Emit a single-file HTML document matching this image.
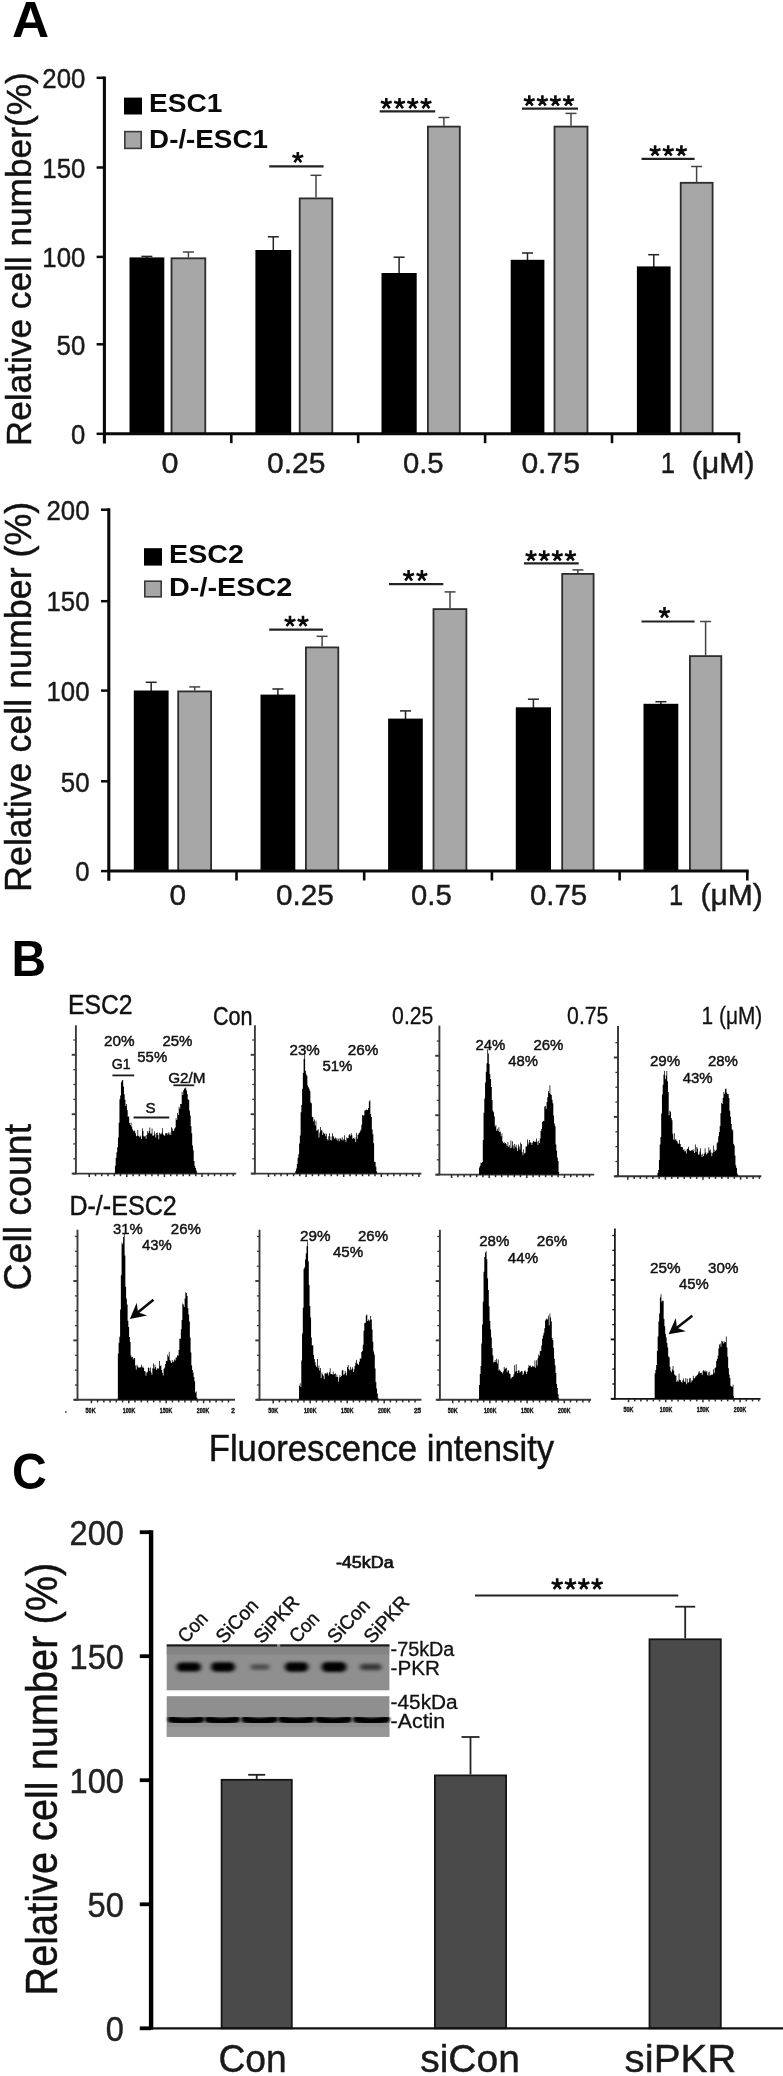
<!DOCTYPE html>
<html><head><meta charset="utf-8"><title>Figure</title>
<style>html,body{margin:0;padding:0;background:#fff}svg{display:block;will-change:transform}text{font-family:"Liberation Sans", sans-serif;font-kerning:none}</style></head><body>
<svg width="783" height="2076" viewBox="0 0 783 2076" font-family='"Liberation Sans", sans-serif'>
<defs><filter id="b1" x="-20%" y="-60%" width="140%" height="220%"><feGaussianBlur stdDeviation="2.0 1.6"/></filter><filter id="b2" x="-20%" y="-60%" width="140%" height="220%"><feGaussianBlur stdDeviation="1.5 1.3"/></filter><filter id="b0" x="-5%" y="-5%" width="110%" height="110%"><feGaussianBlur stdDeviation="0.45"/></filter></defs>
<rect width="783" height="2076" fill="#fff"/>
<text x="12.1" y="37.0" font-size="49.3" font-weight="bold" textLength="37.1" lengthAdjust="spacingAndGlyphs" fill="#000">A</text>
<text x="11.6" y="976.4" font-size="49.5" font-weight="bold" textLength="34.6" lengthAdjust="spacingAndGlyphs" fill="#000">B</text>
<text x="12.0" y="1489.0" font-size="49.5" font-weight="bold" textLength="34.8" lengthAdjust="spacingAndGlyphs" fill="#000">C</text>
<text x="30.8" y="446.3" font-size="35.8" textLength="374.0" lengthAdjust="spacingAndGlyphs" transform="rotate(-90 30.8 446.3)" fill="#111" stroke="#111" stroke-width="0.45">Relative cell number(%)</text>
<line x1="146.9" y1="256.4" x2="146.9" y2="258.4" stroke="#222" stroke-width="1.5" stroke-linecap="butt"/>
<line x1="141.4" y1="256.4" x2="152.4" y2="256.4" stroke="#222" stroke-width="1.5" stroke-linecap="butt"/>
<rect x="129.5" y="257.4" width="34.8" height="176.4" fill="#000"/>
<line x1="188.4" y1="252.0" x2="188.4" y2="257.4" stroke="#444" stroke-width="1.5" stroke-linecap="butt"/>
<line x1="182.9" y1="252.0" x2="193.9" y2="252.0" stroke="#444" stroke-width="1.5" stroke-linecap="butt"/>
<rect x="171.5" y="258.3" width="33.8" height="175.5" fill="#a7a7a7" stroke="#2c2c2c" stroke-width="1.8"/>
<line x1="273.3" y1="236.8" x2="273.3" y2="251.0" stroke="#222" stroke-width="1.5" stroke-linecap="butt"/>
<line x1="267.8" y1="236.8" x2="278.8" y2="236.8" stroke="#222" stroke-width="1.5" stroke-linecap="butt"/>
<rect x="255.4" y="250.0" width="35.8" height="183.8" fill="#000"/>
<line x1="316.0" y1="175.3" x2="316.0" y2="197.5" stroke="#444" stroke-width="1.5" stroke-linecap="butt"/>
<line x1="310.5" y1="175.3" x2="321.5" y2="175.3" stroke="#444" stroke-width="1.5" stroke-linecap="butt"/>
<rect x="299.7" y="198.4" width="32.6" height="235.4" fill="#a7a7a7" stroke="#2c2c2c" stroke-width="1.8"/>
<line x1="399.1" y1="257.2" x2="399.1" y2="274.0" stroke="#222" stroke-width="1.5" stroke-linecap="butt"/>
<line x1="393.6" y1="257.2" x2="404.6" y2="257.2" stroke="#222" stroke-width="1.5" stroke-linecap="butt"/>
<rect x="381.5" y="273.0" width="35.2" height="160.8" fill="#000"/>
<line x1="443.9" y1="117.5" x2="443.9" y2="125.7" stroke="#444" stroke-width="1.5" stroke-linecap="butt"/>
<line x1="438.4" y1="117.5" x2="449.4" y2="117.5" stroke="#444" stroke-width="1.5" stroke-linecap="butt"/>
<rect x="427.9" y="126.6" width="31.9" height="307.2" fill="#a7a7a7" stroke="#2c2c2c" stroke-width="1.8"/>
<line x1="527.5" y1="253.0" x2="527.5" y2="260.8" stroke="#222" stroke-width="1.5" stroke-linecap="butt"/>
<line x1="522.0" y1="253.0" x2="533.0" y2="253.0" stroke="#222" stroke-width="1.5" stroke-linecap="butt"/>
<rect x="510.7" y="259.8" width="33.7" height="174.0" fill="#000"/>
<line x1="571.0" y1="113.4" x2="571.0" y2="125.7" stroke="#444" stroke-width="1.5" stroke-linecap="butt"/>
<line x1="565.5" y1="113.4" x2="576.5" y2="113.4" stroke="#444" stroke-width="1.5" stroke-linecap="butt"/>
<rect x="554.5" y="126.6" width="33.0" height="307.2" fill="#a7a7a7" stroke="#2c2c2c" stroke-width="1.8"/>
<line x1="653.8" y1="254.7" x2="653.8" y2="267.4" stroke="#222" stroke-width="1.5" stroke-linecap="butt"/>
<line x1="648.2" y1="254.7" x2="659.2" y2="254.7" stroke="#222" stroke-width="1.5" stroke-linecap="butt"/>
<rect x="636.9" y="266.4" width="33.7" height="167.4" fill="#000"/>
<line x1="696.6" y1="166.5" x2="696.6" y2="181.9" stroke="#444" stroke-width="1.5" stroke-linecap="butt"/>
<line x1="691.1" y1="166.5" x2="702.1" y2="166.5" stroke="#444" stroke-width="1.5" stroke-linecap="butt"/>
<rect x="680.7" y="182.8" width="31.9" height="251.0" fill="#a7a7a7" stroke="#2c2c2c" stroke-width="1.8"/>
<line x1="104.4" y1="76.4" x2="104.4" y2="443.4" stroke="#0a0a0a" stroke-width="3.1" stroke-linecap="butt"/>
<line x1="103.4" y1="433.8" x2="740.3" y2="433.8" stroke="#0a0a0a" stroke-width="3.0" stroke-linecap="butt"/>
<line x1="231.3" y1="433.8" x2="231.3" y2="443.2" stroke="#0a0a0a" stroke-width="2.6" stroke-linecap="butt"/>
<line x1="358.2" y1="433.8" x2="358.2" y2="443.2" stroke="#0a0a0a" stroke-width="2.6" stroke-linecap="butt"/>
<line x1="485.1" y1="433.8" x2="485.1" y2="443.2" stroke="#0a0a0a" stroke-width="2.6" stroke-linecap="butt"/>
<line x1="612.0" y1="433.8" x2="612.0" y2="443.2" stroke="#0a0a0a" stroke-width="2.6" stroke-linecap="butt"/>
<line x1="738.9" y1="433.8" x2="738.9" y2="443.2" stroke="#0a0a0a" stroke-width="2.6" stroke-linecap="butt"/>
<line x1="96.6" y1="77.8" x2="104.4" y2="77.8" stroke="#0a0a0a" stroke-width="2.5" stroke-linecap="butt"/>
<text x="42.3" y="88.0" font-size="27" textLength="43.0" lengthAdjust="spacingAndGlyphs" fill="#1a1a1a" stroke="#1a1a1a" stroke-width="0.45">200</text>
<line x1="96.6" y1="167.5" x2="104.4" y2="167.5" stroke="#0a0a0a" stroke-width="2.5" stroke-linecap="butt"/>
<text x="42.3" y="177.7" font-size="27" textLength="43.0" lengthAdjust="spacingAndGlyphs" fill="#1a1a1a" stroke="#1a1a1a" stroke-width="0.45">150</text>
<line x1="96.6" y1="256.9" x2="104.4" y2="256.9" stroke="#0a0a0a" stroke-width="2.5" stroke-linecap="butt"/>
<text x="42.3" y="267.1" font-size="27" textLength="43.0" lengthAdjust="spacingAndGlyphs" fill="#1a1a1a" stroke="#1a1a1a" stroke-width="0.45">100</text>
<line x1="96.6" y1="344.3" x2="104.4" y2="344.3" stroke="#0a0a0a" stroke-width="2.5" stroke-linecap="butt"/>
<text x="56.6" y="354.5" font-size="27" textLength="28.7" lengthAdjust="spacingAndGlyphs" fill="#1a1a1a" stroke="#1a1a1a" stroke-width="0.45">50</text>
<line x1="96.6" y1="433.8" x2="104.4" y2="433.8" stroke="#0a0a0a" stroke-width="2.5" stroke-linecap="butt"/>
<text x="71.0" y="444.0" font-size="27" textLength="14.3" lengthAdjust="spacingAndGlyphs" fill="#1a1a1a" stroke="#1a1a1a" stroke-width="0.45">0</text>
<text x="161.6" y="473.3" font-size="29.6" textLength="17.0" lengthAdjust="spacingAndGlyphs" fill="#1a1a1a" stroke="#1a1a1a" stroke-width="0.45">0</text>
<text x="267.1" y="473.3" font-size="29.6" textLength="58.3" lengthAdjust="spacingAndGlyphs" fill="#1a1a1a" stroke="#1a1a1a" stroke-width="0.45">0.25</text>
<text x="402.9" y="473.3" font-size="29.6" textLength="40.7" lengthAdjust="spacingAndGlyphs" fill="#1a1a1a" stroke="#1a1a1a" stroke-width="0.45">0.5</text>
<text x="521.4" y="473.3" font-size="29.6" textLength="58.5" lengthAdjust="spacingAndGlyphs" fill="#1a1a1a" stroke="#1a1a1a" stroke-width="0.45">0.75</text>
<text x="667.8" y="473.3" font-size="29.6" text-anchor="middle" textLength="14.2" lengthAdjust="spacingAndGlyphs" fill="#1a1a1a" stroke="#1a1a1a" stroke-width="0.45">1</text>
<text x="691.7" y="473.3" font-size="29.6" textLength="63.0" lengthAdjust="spacingAndGlyphs" fill="#1a1a1a" stroke="#1a1a1a" stroke-width="0.45">(μM)</text>
<line x1="269.2" y1="166.4" x2="323.6" y2="166.4" stroke="#222" stroke-width="2.2" stroke-linecap="butt"/>
<path d="M297.8 157.6L297.8 151.9M297.8 157.6L303.2 155.8M297.8 157.6L301.2 162.2M297.8 157.6L294.4 162.2M297.8 157.6L292.4 155.8" stroke="#0a0a0a" stroke-width="2.6" fill="none" stroke-linecap="butt"/>
<line x1="379.7" y1="111.4" x2="435.2" y2="111.4" stroke="#222" stroke-width="2.2" stroke-linecap="butt"/>
<path d="M386.3 103.6L386.3 97.9M386.3 103.6L391.7 101.8M386.3 103.6L389.7 108.2M386.3 103.6L383.0 108.2M386.3 103.6L380.9 101.8" stroke="#0a0a0a" stroke-width="2.6" fill="none" stroke-linecap="butt"/>
<path d="M399.5 103.6L399.5 97.9M399.5 103.6L405.0 101.8M399.5 103.6L402.9 108.2M399.5 103.6L396.2 108.2M399.5 103.6L394.1 101.8" stroke="#0a0a0a" stroke-width="2.6" fill="none" stroke-linecap="butt"/>
<path d="M412.8 103.6L412.8 97.9M412.8 103.6L418.2 101.8M412.8 103.6L416.1 108.2M412.8 103.6L409.4 108.2M412.8 103.6L407.3 101.8" stroke="#0a0a0a" stroke-width="2.6" fill="none" stroke-linecap="butt"/>
<path d="M426.0 103.6L426.0 97.9M426.0 103.6L431.4 101.8M426.0 103.6L429.3 108.2M426.0 103.6L422.6 108.2M426.0 103.6L420.6 101.8" stroke="#0a0a0a" stroke-width="2.6" fill="none" stroke-linecap="butt"/>
<line x1="522.0" y1="108.6" x2="578.0" y2="108.6" stroke="#222" stroke-width="2.2" stroke-linecap="butt"/>
<path d="M529.3 101.0L529.3 95.3M529.3 101.0L534.7 99.2M529.3 101.0L532.7 105.6M529.3 101.0L526.0 105.6M529.3 101.0L523.9 99.2" stroke="#0a0a0a" stroke-width="2.6" fill="none" stroke-linecap="butt"/>
<path d="M542.4 101.0L542.4 95.3M542.4 101.0L547.8 99.2M542.4 101.0L545.7 105.6M542.4 101.0L539.0 105.6M542.4 101.0L537.0 99.2" stroke="#0a0a0a" stroke-width="2.6" fill="none" stroke-linecap="butt"/>
<path d="M555.4 101.0L555.4 95.3M555.4 101.0L560.8 99.2M555.4 101.0L558.8 105.6M555.4 101.0L552.1 105.6M555.4 101.0L550.0 99.2" stroke="#0a0a0a" stroke-width="2.6" fill="none" stroke-linecap="butt"/>
<path d="M568.5 101.0L568.5 95.3M568.5 101.0L573.9 99.2M568.5 101.0L571.8 105.6M568.5 101.0L565.1 105.6M568.5 101.0L563.1 99.2" stroke="#0a0a0a" stroke-width="2.6" fill="none" stroke-linecap="butt"/>
<line x1="641.5" y1="158.9" x2="694.6" y2="158.9" stroke="#222" stroke-width="2.2" stroke-linecap="butt"/>
<path d="M655.1 151.0L655.1 145.3M655.1 151.0L660.5 149.2M655.1 151.0L658.4 155.6M655.1 151.0L651.7 155.6M655.1 151.0L649.7 149.2" stroke="#0a0a0a" stroke-width="2.6" fill="none" stroke-linecap="butt"/>
<path d="M668.2 151.0L668.2 145.3M668.2 151.0L673.7 149.2M668.2 151.0L671.6 155.6M668.2 151.0L664.9 155.6M668.2 151.0L662.8 149.2" stroke="#0a0a0a" stroke-width="2.6" fill="none" stroke-linecap="butt"/>
<path d="M681.4 151.0L681.4 145.3M681.4 151.0L686.8 149.2M681.4 151.0L684.8 155.6M681.4 151.0L678.1 155.6M681.4 151.0L676.0 149.2" stroke="#0a0a0a" stroke-width="2.6" fill="none" stroke-linecap="butt"/>
<rect x="124.0" y="97.6" width="18.0" height="16.9" fill="#000"/>
<text x="149.1" y="112.4" font-size="25.2" font-weight="bold" textLength="73.3" lengthAdjust="spacingAndGlyphs" fill="#0a0a0a">ESC1</text>
<rect x="124.8" y="131.6" width="16.4" height="16.8" fill="#a6a6a6" stroke="#3a3a3a" stroke-width="1.6"/>
<text x="149.1" y="147.6" font-size="25.2" font-weight="bold" textLength="118.8" lengthAdjust="spacingAndGlyphs" fill="#0a0a0a">D-/-ESC1</text>
<text x="31.0" y="891.9" font-size="36" textLength="390.2" lengthAdjust="spacingAndGlyphs" transform="rotate(-90 31.0 891.9)" fill="#111" stroke="#111" stroke-width="0.45">Relative cell number (%)</text>
<line x1="151.2" y1="682.3" x2="151.2" y2="691.5" stroke="#222" stroke-width="1.5" stroke-linecap="butt"/>
<line x1="145.7" y1="682.3" x2="156.7" y2="682.3" stroke="#222" stroke-width="1.5" stroke-linecap="butt"/>
<rect x="133.8" y="690.5" width="34.8" height="180.6" fill="#000"/>
<line x1="194.7" y1="686.9" x2="194.7" y2="690.5" stroke="#444" stroke-width="1.5" stroke-linecap="butt"/>
<line x1="189.2" y1="686.9" x2="200.2" y2="686.9" stroke="#444" stroke-width="1.5" stroke-linecap="butt"/>
<rect x="178.2" y="691.4" width="32.9" height="179.7" fill="#a7a7a7" stroke="#2c2c2c" stroke-width="1.8"/>
<line x1="277.9" y1="689.0" x2="277.9" y2="695.6" stroke="#222" stroke-width="1.5" stroke-linecap="butt"/>
<line x1="272.4" y1="689.0" x2="283.4" y2="689.0" stroke="#222" stroke-width="1.5" stroke-linecap="butt"/>
<rect x="260.5" y="694.6" width="34.8" height="176.5" fill="#000"/>
<line x1="322.1" y1="636.3" x2="322.1" y2="646.5" stroke="#444" stroke-width="1.5" stroke-linecap="butt"/>
<line x1="316.6" y1="636.3" x2="327.6" y2="636.3" stroke="#444" stroke-width="1.5" stroke-linecap="butt"/>
<rect x="305.9" y="647.4" width="32.4" height="223.7" fill="#a7a7a7" stroke="#2c2c2c" stroke-width="1.8"/>
<line x1="405.5" y1="710.9" x2="405.5" y2="719.6" stroke="#222" stroke-width="1.5" stroke-linecap="butt"/>
<line x1="400.0" y1="710.9" x2="411.0" y2="710.9" stroke="#222" stroke-width="1.5" stroke-linecap="butt"/>
<rect x="388.1" y="718.6" width="34.7" height="152.5" fill="#000"/>
<line x1="450.0" y1="591.9" x2="450.0" y2="608.2" stroke="#444" stroke-width="1.5" stroke-linecap="butt"/>
<line x1="444.5" y1="591.9" x2="455.5" y2="591.9" stroke="#444" stroke-width="1.5" stroke-linecap="butt"/>
<rect x="433.5" y="609.1" width="32.9" height="262.0" fill="#a7a7a7" stroke="#2c2c2c" stroke-width="1.8"/>
<line x1="533.4" y1="699.2" x2="533.4" y2="708.3" stroke="#222" stroke-width="1.5" stroke-linecap="butt"/>
<line x1="527.9" y1="699.2" x2="538.9" y2="699.2" stroke="#222" stroke-width="1.5" stroke-linecap="butt"/>
<rect x="515.8" y="707.3" width="35.2" height="163.8" fill="#000"/>
<line x1="577.9" y1="569.9" x2="577.9" y2="573.0" stroke="#444" stroke-width="1.5" stroke-linecap="butt"/>
<line x1="572.4" y1="569.9" x2="583.4" y2="569.9" stroke="#444" stroke-width="1.5" stroke-linecap="butt"/>
<rect x="562.2" y="573.9" width="31.4" height="297.2" fill="#a7a7a7" stroke="#2c2c2c" stroke-width="1.8"/>
<line x1="660.9" y1="701.7" x2="660.9" y2="704.8" stroke="#222" stroke-width="1.5" stroke-linecap="butt"/>
<line x1="655.4" y1="701.7" x2="666.4" y2="701.7" stroke="#222" stroke-width="1.5" stroke-linecap="butt"/>
<rect x="643.5" y="703.8" width="34.8" height="167.3" fill="#000"/>
<line x1="705.6" y1="621.5" x2="705.6" y2="655.2" stroke="#444" stroke-width="1.5" stroke-linecap="butt"/>
<line x1="700.1" y1="621.5" x2="711.1" y2="621.5" stroke="#444" stroke-width="1.5" stroke-linecap="butt"/>
<rect x="689.9" y="656.1" width="31.4" height="215.0" fill="#a7a7a7" stroke="#2c2c2c" stroke-width="1.8"/>
<line x1="108.8" y1="508.3" x2="108.8" y2="880.7" stroke="#0a0a0a" stroke-width="3.1" stroke-linecap="butt"/>
<line x1="107.8" y1="871.1" x2="748.7" y2="871.1" stroke="#0a0a0a" stroke-width="3.0" stroke-linecap="butt"/>
<line x1="236.5" y1="871.1" x2="236.5" y2="880.5" stroke="#0a0a0a" stroke-width="2.6" stroke-linecap="butt"/>
<line x1="364.2" y1="871.1" x2="364.2" y2="880.5" stroke="#0a0a0a" stroke-width="2.6" stroke-linecap="butt"/>
<line x1="491.9" y1="871.1" x2="491.9" y2="880.5" stroke="#0a0a0a" stroke-width="2.6" stroke-linecap="butt"/>
<line x1="619.6" y1="871.1" x2="619.6" y2="880.5" stroke="#0a0a0a" stroke-width="2.6" stroke-linecap="butt"/>
<line x1="747.3" y1="871.1" x2="747.3" y2="880.5" stroke="#0a0a0a" stroke-width="2.6" stroke-linecap="butt"/>
<line x1="101.0" y1="509.7" x2="108.8" y2="509.7" stroke="#0a0a0a" stroke-width="2.5" stroke-linecap="butt"/>
<text x="46.5" y="519.9" font-size="27" textLength="43.0" lengthAdjust="spacingAndGlyphs" fill="#1a1a1a" stroke="#1a1a1a" stroke-width="0.45">200</text>
<line x1="101.0" y1="601.2" x2="108.8" y2="601.2" stroke="#0a0a0a" stroke-width="2.5" stroke-linecap="butt"/>
<text x="46.5" y="611.4" font-size="27" textLength="43.0" lengthAdjust="spacingAndGlyphs" fill="#1a1a1a" stroke="#1a1a1a" stroke-width="0.45">150</text>
<line x1="101.0" y1="690.6" x2="108.8" y2="690.6" stroke="#0a0a0a" stroke-width="2.5" stroke-linecap="butt"/>
<text x="46.5" y="700.8" font-size="27" textLength="43.0" lengthAdjust="spacingAndGlyphs" fill="#1a1a1a" stroke="#1a1a1a" stroke-width="0.45">100</text>
<line x1="101.0" y1="781.3" x2="108.8" y2="781.3" stroke="#0a0a0a" stroke-width="2.5" stroke-linecap="butt"/>
<text x="60.8" y="791.5" font-size="27" textLength="28.7" lengthAdjust="spacingAndGlyphs" fill="#1a1a1a" stroke="#1a1a1a" stroke-width="0.45">50</text>
<line x1="101.0" y1="871.1" x2="108.8" y2="871.1" stroke="#0a0a0a" stroke-width="2.5" stroke-linecap="butt"/>
<text x="75.2" y="881.3" font-size="27" textLength="14.3" lengthAdjust="spacingAndGlyphs" fill="#1a1a1a" stroke="#1a1a1a" stroke-width="0.45">0</text>
<text x="169.6" y="904.8" font-size="29.6" textLength="16.6" lengthAdjust="spacingAndGlyphs" fill="#1a1a1a" stroke="#1a1a1a" stroke-width="0.45">0</text>
<text x="275.9" y="904.8" font-size="29.6" textLength="57.9" lengthAdjust="spacingAndGlyphs" fill="#1a1a1a" stroke="#1a1a1a" stroke-width="0.45">0.25</text>
<text x="411.1" y="904.8" font-size="29.6" textLength="40.6" lengthAdjust="spacingAndGlyphs" fill="#1a1a1a" stroke="#1a1a1a" stroke-width="0.45">0.5</text>
<text x="530.0" y="904.8" font-size="29.6" textLength="57.2" lengthAdjust="spacingAndGlyphs" fill="#1a1a1a" stroke="#1a1a1a" stroke-width="0.45">0.75</text>
<text x="676.0" y="904.8" font-size="29.6" text-anchor="middle" textLength="14.2" lengthAdjust="spacingAndGlyphs" fill="#1a1a1a" stroke="#1a1a1a" stroke-width="0.45">1</text>
<text x="700.4" y="904.8" font-size="29.6" textLength="62.4" lengthAdjust="spacingAndGlyphs" fill="#1a1a1a" stroke="#1a1a1a" stroke-width="0.45">(μM)</text>
<line x1="269.2" y1="629.7" x2="322.9" y2="629.7" stroke="#222" stroke-width="2.2" stroke-linecap="butt"/>
<path d="M290.0 621.5L290.0 615.8M290.0 621.5L295.4 619.7M290.0 621.5L293.4 626.1M290.0 621.5L286.6 626.1M290.0 621.5L284.6 619.7" stroke="#0a0a0a" stroke-width="2.6" fill="none" stroke-linecap="butt"/>
<path d="M303.0 621.5L303.0 615.8M303.0 621.5L308.4 619.7M303.0 621.5L306.4 626.1M303.0 621.5L299.6 626.1M303.0 621.5L297.6 619.7" stroke="#0a0a0a" stroke-width="2.6" fill="none" stroke-linecap="butt"/>
<line x1="389.0" y1="584.2" x2="443.3" y2="584.2" stroke="#222" stroke-width="2.2" stroke-linecap="butt"/>
<path d="M408.6 575.8L408.6 570.1M408.6 575.8L414.0 574.0M408.6 575.8L412.0 580.4M408.6 575.8L405.3 580.4M408.6 575.8L403.2 574.0" stroke="#0a0a0a" stroke-width="2.6" fill="none" stroke-linecap="butt"/>
<path d="M421.9 575.8L421.9 570.1M421.9 575.8L427.3 574.0M421.9 575.8L425.2 580.4M421.9 575.8L418.5 580.4M421.9 575.8L416.5 574.0" stroke="#0a0a0a" stroke-width="2.6" fill="none" stroke-linecap="butt"/>
<line x1="524.0" y1="563.3" x2="578.7" y2="563.3" stroke="#222" stroke-width="2.2" stroke-linecap="butt"/>
<path d="M531.1 556.0L531.1 550.3M531.1 556.0L536.5 554.2M531.1 556.0L534.4 560.6M531.1 556.0L527.7 560.6M531.1 556.0L525.6 554.2" stroke="#0a0a0a" stroke-width="2.6" fill="none" stroke-linecap="butt"/>
<path d="M544.2 556.0L544.2 550.3M544.2 556.0L549.6 554.2M544.2 556.0L547.5 560.6M544.2 556.0L540.8 560.6M544.2 556.0L538.8 554.2" stroke="#0a0a0a" stroke-width="2.6" fill="none" stroke-linecap="butt"/>
<path d="M557.3 556.0L557.3 550.3M557.3 556.0L562.7 554.2M557.3 556.0L560.7 560.6M557.3 556.0L554.0 560.6M557.3 556.0L551.9 554.2" stroke="#0a0a0a" stroke-width="2.6" fill="none" stroke-linecap="butt"/>
<path d="M570.4 556.0L570.4 550.3M570.4 556.0L575.9 554.2M570.4 556.0L573.8 560.6M570.4 556.0L567.1 560.6M570.4 556.0L565.0 554.2" stroke="#0a0a0a" stroke-width="2.6" fill="none" stroke-linecap="butt"/>
<line x1="641.5" y1="621.5" x2="694.6" y2="621.5" stroke="#222" stroke-width="2.2" stroke-linecap="butt"/>
<path d="M664.5 612.8L664.5 607.1M664.5 612.8L669.9 611.0M664.5 612.8L667.9 617.4M664.5 612.8L661.1 617.4M664.5 612.8L659.1 611.0" stroke="#0a0a0a" stroke-width="2.6" fill="none" stroke-linecap="butt"/>
<rect x="144.0" y="548.2" width="18.0" height="17.4" fill="#000"/>
<text x="169.1" y="562.8" font-size="25.2" font-weight="bold" textLength="74.7" lengthAdjust="spacingAndGlyphs" fill="#0a0a0a">ESC2</text>
<rect x="144.8" y="581.2" width="16.4" height="15.6" fill="#a6a6a6" stroke="#3a3a3a" stroke-width="1.6"/>
<text x="169.1" y="596.4" font-size="25.2" font-weight="bold" textLength="123.1" lengthAdjust="spacingAndGlyphs" fill="#0a0a0a">D-/-ESC2</text>
<text x="68.0" y="1013.7" font-size="27" textLength="64.6" lengthAdjust="spacingAndGlyphs" fill="#111" stroke="#111" stroke-width="0.45">ESC2</text>
<text x="212.9" y="1024.6" font-size="26" textLength="39.6" lengthAdjust="spacingAndGlyphs" fill="#111" stroke="#111" stroke-width="0.45">Con</text>
<text x="392.1" y="1024.4" font-size="24.7" textLength="41.3" lengthAdjust="spacingAndGlyphs" fill="#111" stroke="#111" stroke-width="0.3">0.25</text>
<text x="567.1" y="1024.4" font-size="24.7" textLength="41.3" lengthAdjust="spacingAndGlyphs" fill="#111" stroke="#111" stroke-width="0.3">0.75</text>
<text x="701.6" y="1024.4" font-size="24.7" textLength="60.6" lengthAdjust="spacingAndGlyphs" fill="#111" stroke="#111" stroke-width="0.3">1 (μM)</text>
<text x="69.4" y="1215.2" font-size="27" textLength="107.3" lengthAdjust="spacingAndGlyphs" fill="#111" stroke="#111" stroke-width="0.45">D-/-ESC2</text>
<text x="30.5" y="1290.5" font-size="38.4" textLength="166.6" lengthAdjust="spacingAndGlyphs" transform="rotate(-90 30.5 1290.5)" fill="#111" stroke="#111" stroke-width="0.45">Cell count</text>
<text x="208.7" y="1460.8" font-size="37.5" textLength="345.5" lengthAdjust="spacingAndGlyphs" fill="#111" stroke="#111" stroke-width="0.45">Fluorescence intensity</text>
<line x1="75.9" y1="1025.3" x2="75.9" y2="1174.2" stroke="#3a3a3a" stroke-width="1.9" stroke-linecap="butt"/>
<line x1="72.9" y1="1173.6" x2="236.2" y2="1173.6" stroke="#3a3a3a" stroke-width="1.9" stroke-linecap="butt"/>
<line x1="71.7" y1="1173.6" x2="75.9" y2="1173.6" stroke="#3a3a3a" stroke-width="1.9" stroke-linecap="butt"/>
<line x1="73.3" y1="1158.8" x2="75.9" y2="1158.8" stroke="#3a3a3a" stroke-width="1.3" stroke-linecap="butt"/>
<line x1="73.3" y1="1143.9" x2="75.9" y2="1143.9" stroke="#3a3a3a" stroke-width="1.3" stroke-linecap="butt"/>
<line x1="73.3" y1="1129.1" x2="75.9" y2="1129.1" stroke="#3a3a3a" stroke-width="1.3" stroke-linecap="butt"/>
<line x1="71.7" y1="1114.2" x2="75.9" y2="1114.2" stroke="#3a3a3a" stroke-width="1.9" stroke-linecap="butt"/>
<line x1="73.3" y1="1099.4" x2="75.9" y2="1099.4" stroke="#3a3a3a" stroke-width="1.3" stroke-linecap="butt"/>
<line x1="73.3" y1="1084.5" x2="75.9" y2="1084.5" stroke="#3a3a3a" stroke-width="1.3" stroke-linecap="butt"/>
<line x1="73.3" y1="1069.7" x2="75.9" y2="1069.7" stroke="#3a3a3a" stroke-width="1.3" stroke-linecap="butt"/>
<line x1="71.7" y1="1054.8" x2="75.9" y2="1054.8" stroke="#3a3a3a" stroke-width="1.9" stroke-linecap="butt"/>
<line x1="73.3" y1="1040.0" x2="75.9" y2="1040.0" stroke="#3a3a3a" stroke-width="1.3" stroke-linecap="butt"/>
<line x1="89.2" y1="1173.6" x2="89.2" y2="1177.0" stroke="#2a2a2a" stroke-width="1.5" stroke-linecap="butt"/>
<line x1="95.5" y1="1173.6" x2="95.5" y2="1176.2" stroke="#2a2a2a" stroke-width="1.5" stroke-linecap="butt"/>
<line x1="101.7" y1="1173.6" x2="101.7" y2="1176.2" stroke="#2a2a2a" stroke-width="1.5" stroke-linecap="butt"/>
<line x1="108.0" y1="1173.6" x2="108.0" y2="1176.2" stroke="#2a2a2a" stroke-width="1.5" stroke-linecap="butt"/>
<line x1="114.3" y1="1173.6" x2="114.3" y2="1176.2" stroke="#2a2a2a" stroke-width="1.5" stroke-linecap="butt"/>
<line x1="120.5" y1="1173.6" x2="120.5" y2="1176.2" stroke="#2a2a2a" stroke-width="1.5" stroke-linecap="butt"/>
<line x1="126.8" y1="1173.6" x2="126.8" y2="1177.0" stroke="#2a2a2a" stroke-width="1.5" stroke-linecap="butt"/>
<line x1="133.1" y1="1173.6" x2="133.1" y2="1176.2" stroke="#2a2a2a" stroke-width="1.5" stroke-linecap="butt"/>
<line x1="139.3" y1="1173.6" x2="139.3" y2="1176.2" stroke="#2a2a2a" stroke-width="1.5" stroke-linecap="butt"/>
<line x1="145.6" y1="1173.6" x2="145.6" y2="1176.2" stroke="#2a2a2a" stroke-width="1.5" stroke-linecap="butt"/>
<line x1="151.9" y1="1173.6" x2="151.9" y2="1176.2" stroke="#2a2a2a" stroke-width="1.5" stroke-linecap="butt"/>
<line x1="158.1" y1="1173.6" x2="158.1" y2="1176.2" stroke="#2a2a2a" stroke-width="1.5" stroke-linecap="butt"/>
<line x1="164.4" y1="1173.6" x2="164.4" y2="1177.0" stroke="#2a2a2a" stroke-width="1.5" stroke-linecap="butt"/>
<line x1="170.7" y1="1173.6" x2="170.7" y2="1176.2" stroke="#2a2a2a" stroke-width="1.5" stroke-linecap="butt"/>
<line x1="176.9" y1="1173.6" x2="176.9" y2="1176.2" stroke="#2a2a2a" stroke-width="1.5" stroke-linecap="butt"/>
<line x1="183.2" y1="1173.6" x2="183.2" y2="1176.2" stroke="#2a2a2a" stroke-width="1.5" stroke-linecap="butt"/>
<line x1="189.5" y1="1173.6" x2="189.5" y2="1176.2" stroke="#2a2a2a" stroke-width="1.5" stroke-linecap="butt"/>
<line x1="195.7" y1="1173.6" x2="195.7" y2="1176.2" stroke="#2a2a2a" stroke-width="1.5" stroke-linecap="butt"/>
<line x1="202.0" y1="1173.6" x2="202.0" y2="1177.0" stroke="#2a2a2a" stroke-width="1.5" stroke-linecap="butt"/>
<line x1="208.3" y1="1173.6" x2="208.3" y2="1176.2" stroke="#2a2a2a" stroke-width="1.5" stroke-linecap="butt"/>
<line x1="214.5" y1="1173.6" x2="214.5" y2="1176.2" stroke="#2a2a2a" stroke-width="1.5" stroke-linecap="butt"/>
<line x1="220.8" y1="1173.6" x2="220.8" y2="1176.2" stroke="#2a2a2a" stroke-width="1.5" stroke-linecap="butt"/>
<line x1="227.1" y1="1173.6" x2="227.1" y2="1176.2" stroke="#2a2a2a" stroke-width="1.5" stroke-linecap="butt"/>
<line x1="233.3" y1="1173.6" x2="233.3" y2="1176.2" stroke="#2a2a2a" stroke-width="1.5" stroke-linecap="butt"/>
<path d="M114.2 1173.6L114.20 1173.6L114.95 1173.6L114.95 1165.8L115.70 1165.8L115.70 1157.7L116.45 1157.7L116.45 1152.3L117.20 1152.3L117.20 1147.2L117.95 1147.2L117.95 1137.4L118.70 1137.4L118.70 1122.7L119.45 1122.7L119.45 1099.3L120.20 1099.3L120.20 1095.6L120.95 1095.6L120.95 1082.3L121.70 1082.3L121.70 1080.4L122.45 1080.4L122.45 1080.0L123.20 1080.0L123.20 1086.5L123.95 1086.5L123.95 1094.2L124.70 1094.2L124.70 1099.8L125.45 1099.8L125.45 1106.0L126.20 1106.0L126.20 1103.9L126.95 1103.9L126.95 1110.2L127.70 1110.2L127.70 1116.7L128.45 1116.7L128.45 1116.5L129.20 1116.5L129.20 1123.1L129.95 1123.1L129.95 1125.1L130.70 1125.1L130.70 1122.5L131.45 1122.5L131.45 1126.7L132.20 1126.7L132.20 1129.2L132.95 1129.2L132.95 1131.2L133.70 1131.2L133.70 1130.3L134.45 1130.3L134.45 1131.2L135.20 1131.2L135.20 1133.3L135.95 1133.3L135.95 1136.2L136.70 1136.2L136.70 1135.8L137.45 1135.8L137.45 1130.0L138.20 1130.0L138.20 1136.0L138.95 1136.0L138.95 1137.2L139.70 1137.2L139.70 1135.5L140.45 1135.5L140.45 1136.6L141.20 1136.6L141.20 1138.9L141.95 1138.9L141.95 1128.2L142.70 1128.2L142.70 1130.9L143.45 1130.9L143.45 1136.2L144.20 1136.2L144.20 1136.4L144.95 1136.4L144.95 1135.8L145.70 1135.8L145.70 1138.7L146.45 1138.7L146.45 1134.9L147.20 1134.9L147.20 1131.3L147.95 1131.3L147.95 1133.3L148.70 1133.3L148.70 1131.1L149.45 1131.1L149.45 1127.5L150.20 1127.5L150.20 1133.5L150.95 1133.5L150.95 1133.6L151.70 1133.6L151.70 1128.5L152.45 1128.5L152.45 1135.8L153.20 1135.8L153.20 1135.5L153.95 1135.5L153.95 1131.4L154.70 1131.4L154.70 1134.5L155.45 1134.5L155.45 1137.5L156.20 1137.5L156.20 1133.1L156.95 1133.1L156.95 1132.6L157.70 1132.6L157.70 1135.1L158.45 1135.1L158.45 1139.2L159.20 1139.2L159.20 1132.7L159.95 1132.7L159.95 1133.8L160.70 1133.8L160.70 1134.3L161.45 1134.3L161.45 1132.8L162.20 1132.8L162.20 1128.2L162.95 1128.2L162.95 1134.4L163.70 1134.4L163.70 1135.0L164.45 1135.0L164.45 1136.0L165.20 1136.0L165.20 1133.3L165.95 1133.3L165.95 1133.3L166.70 1133.3L166.70 1133.0L167.45 1133.0L167.45 1134.7L168.20 1134.7L168.20 1132.5L168.95 1132.5L168.95 1134.4L169.70 1134.4L169.70 1132.6L170.45 1132.6L170.45 1135.1L171.20 1135.1L171.20 1127.2L171.95 1127.2L171.95 1128.6L172.70 1128.6L172.70 1131.1L173.45 1131.1L173.45 1130.7L174.20 1130.7L174.20 1128.6L174.95 1128.6L174.95 1127.6L175.70 1127.6L175.70 1118.3L176.45 1118.3L176.45 1119.9L177.20 1119.9L177.20 1112.9L177.95 1112.9L177.95 1115.0L178.70 1115.0L178.70 1106.8L179.45 1106.8L179.45 1108.7L180.20 1108.7L180.20 1103.9L180.95 1103.9L180.95 1104.0L181.70 1104.0L181.70 1092.1L182.45 1092.1L182.45 1094.9L183.20 1094.9L183.20 1090.3L183.95 1090.3L183.95 1088.6L184.70 1088.6L184.70 1088.6L185.45 1088.6L185.45 1087.6L186.20 1087.6L186.20 1090.5L186.95 1090.5L186.95 1094.1L187.70 1094.1L187.70 1099.6L188.45 1099.6L188.45 1099.7L189.20 1099.7L189.20 1110.5L189.95 1110.5L189.95 1115.5L190.70 1115.5L190.70 1126.3L191.45 1126.3L191.45 1133.2L192.20 1133.2L192.20 1145.4L192.95 1145.4L192.95 1150.3L193.70 1150.3L193.70 1161.1L194.45 1161.1L194.45 1165.8L195.20 1165.8L195.20 1168.0L195.95 1168.0L195.95 1170.4L196.70 1170.4L196.70 1172.7L197.45 1172.7L197.0 1173.6Z" fill="#000" filter="url(#b0)"/>
<text x="104.1" y="1045.6" font-size="15.5" textLength="30.6" lengthAdjust="spacingAndGlyphs" fill="#111" stroke="#111" stroke-width="0.45">20%</text>
<text x="162.4" y="1045.6" font-size="15.5" textLength="30.1" lengthAdjust="spacingAndGlyphs" fill="#111" stroke="#111" stroke-width="0.45">25%</text>
<text x="137.3" y="1061.9" font-size="15.5" textLength="29.9" lengthAdjust="spacingAndGlyphs" fill="#111" stroke="#111" stroke-width="0.45">55%</text>
<text x="111.7" y="1068.7" font-size="15.5" textLength="19.0" lengthAdjust="spacingAndGlyphs" fill="#111" stroke="#111" stroke-width="0.45">G1</text>
<text x="168.2" y="1083.0" font-size="15.5" textLength="37.3" lengthAdjust="spacingAndGlyphs" fill="#111" stroke="#111" stroke-width="0.45">G2/M</text>
<text x="145.6" y="1113.4" font-size="15.5" textLength="10.1" lengthAdjust="spacingAndGlyphs" fill="#111" stroke="#111" stroke-width="0.45">S</text>
<line x1="112.4" y1="1075.4" x2="134.2" y2="1075.4" stroke="#1c1c1c" stroke-width="1.8" stroke-linecap="butt"/>
<line x1="173.4" y1="1085.3" x2="194.2" y2="1085.3" stroke="#1c1c1c" stroke-width="1.8" stroke-linecap="butt"/>
<line x1="133.6" y1="1117.5" x2="169.3" y2="1117.5" stroke="#1c1c1c" stroke-width="1.8" stroke-linecap="butt"/>
<line x1="254.9" y1="1025.3" x2="254.9" y2="1174.2" stroke="#3a3a3a" stroke-width="1.9" stroke-linecap="butt"/>
<line x1="251.9" y1="1173.6" x2="421.4" y2="1173.6" stroke="#3a3a3a" stroke-width="1.9" stroke-linecap="butt"/>
<line x1="250.7" y1="1173.6" x2="254.9" y2="1173.6" stroke="#3a3a3a" stroke-width="1.9" stroke-linecap="butt"/>
<line x1="252.3" y1="1158.8" x2="254.9" y2="1158.8" stroke="#3a3a3a" stroke-width="1.3" stroke-linecap="butt"/>
<line x1="252.3" y1="1143.9" x2="254.9" y2="1143.9" stroke="#3a3a3a" stroke-width="1.3" stroke-linecap="butt"/>
<line x1="252.3" y1="1129.1" x2="254.9" y2="1129.1" stroke="#3a3a3a" stroke-width="1.3" stroke-linecap="butt"/>
<line x1="250.7" y1="1114.2" x2="254.9" y2="1114.2" stroke="#3a3a3a" stroke-width="1.9" stroke-linecap="butt"/>
<line x1="252.3" y1="1099.4" x2="254.9" y2="1099.4" stroke="#3a3a3a" stroke-width="1.3" stroke-linecap="butt"/>
<line x1="252.3" y1="1084.5" x2="254.9" y2="1084.5" stroke="#3a3a3a" stroke-width="1.3" stroke-linecap="butt"/>
<line x1="252.3" y1="1069.7" x2="254.9" y2="1069.7" stroke="#3a3a3a" stroke-width="1.3" stroke-linecap="butt"/>
<line x1="250.7" y1="1054.8" x2="254.9" y2="1054.8" stroke="#3a3a3a" stroke-width="1.9" stroke-linecap="butt"/>
<line x1="252.3" y1="1040.0" x2="254.9" y2="1040.0" stroke="#3a3a3a" stroke-width="1.3" stroke-linecap="butt"/>
<line x1="268.5" y1="1173.6" x2="268.5" y2="1177.0" stroke="#2a2a2a" stroke-width="1.5" stroke-linecap="butt"/>
<line x1="274.8" y1="1173.6" x2="274.8" y2="1176.2" stroke="#2a2a2a" stroke-width="1.5" stroke-linecap="butt"/>
<line x1="281.0" y1="1173.6" x2="281.0" y2="1176.2" stroke="#2a2a2a" stroke-width="1.5" stroke-linecap="butt"/>
<line x1="287.3" y1="1173.6" x2="287.3" y2="1176.2" stroke="#2a2a2a" stroke-width="1.5" stroke-linecap="butt"/>
<line x1="293.6" y1="1173.6" x2="293.6" y2="1176.2" stroke="#2a2a2a" stroke-width="1.5" stroke-linecap="butt"/>
<line x1="299.8" y1="1173.6" x2="299.8" y2="1176.2" stroke="#2a2a2a" stroke-width="1.5" stroke-linecap="butt"/>
<line x1="306.1" y1="1173.6" x2="306.1" y2="1177.0" stroke="#2a2a2a" stroke-width="1.5" stroke-linecap="butt"/>
<line x1="312.4" y1="1173.6" x2="312.4" y2="1176.2" stroke="#2a2a2a" stroke-width="1.5" stroke-linecap="butt"/>
<line x1="318.6" y1="1173.6" x2="318.6" y2="1176.2" stroke="#2a2a2a" stroke-width="1.5" stroke-linecap="butt"/>
<line x1="324.9" y1="1173.6" x2="324.9" y2="1176.2" stroke="#2a2a2a" stroke-width="1.5" stroke-linecap="butt"/>
<line x1="331.2" y1="1173.6" x2="331.2" y2="1176.2" stroke="#2a2a2a" stroke-width="1.5" stroke-linecap="butt"/>
<line x1="337.4" y1="1173.6" x2="337.4" y2="1176.2" stroke="#2a2a2a" stroke-width="1.5" stroke-linecap="butt"/>
<line x1="343.7" y1="1173.6" x2="343.7" y2="1177.0" stroke="#2a2a2a" stroke-width="1.5" stroke-linecap="butt"/>
<line x1="350.0" y1="1173.6" x2="350.0" y2="1176.2" stroke="#2a2a2a" stroke-width="1.5" stroke-linecap="butt"/>
<line x1="356.2" y1="1173.6" x2="356.2" y2="1176.2" stroke="#2a2a2a" stroke-width="1.5" stroke-linecap="butt"/>
<line x1="362.5" y1="1173.6" x2="362.5" y2="1176.2" stroke="#2a2a2a" stroke-width="1.5" stroke-linecap="butt"/>
<line x1="368.8" y1="1173.6" x2="368.8" y2="1176.2" stroke="#2a2a2a" stroke-width="1.5" stroke-linecap="butt"/>
<line x1="375.0" y1="1173.6" x2="375.0" y2="1176.2" stroke="#2a2a2a" stroke-width="1.5" stroke-linecap="butt"/>
<line x1="381.3" y1="1173.6" x2="381.3" y2="1177.0" stroke="#2a2a2a" stroke-width="1.5" stroke-linecap="butt"/>
<line x1="387.6" y1="1173.6" x2="387.6" y2="1176.2" stroke="#2a2a2a" stroke-width="1.5" stroke-linecap="butt"/>
<line x1="393.8" y1="1173.6" x2="393.8" y2="1176.2" stroke="#2a2a2a" stroke-width="1.5" stroke-linecap="butt"/>
<line x1="400.1" y1="1173.6" x2="400.1" y2="1176.2" stroke="#2a2a2a" stroke-width="1.5" stroke-linecap="butt"/>
<line x1="406.4" y1="1173.6" x2="406.4" y2="1176.2" stroke="#2a2a2a" stroke-width="1.5" stroke-linecap="butt"/>
<line x1="412.6" y1="1173.6" x2="412.6" y2="1176.2" stroke="#2a2a2a" stroke-width="1.5" stroke-linecap="butt"/>
<line x1="418.9" y1="1173.6" x2="418.9" y2="1177.0" stroke="#2a2a2a" stroke-width="1.5" stroke-linecap="butt"/>
<path d="M294.6 1173.6L294.60 1173.6L295.35 1173.6L295.35 1171.0L296.10 1171.0L296.10 1168.4L296.85 1168.4L296.85 1164.0L297.60 1164.0L297.60 1158.1L298.35 1158.1L298.35 1154.2L299.10 1154.2L299.10 1143.6L299.85 1143.6L299.85 1135.5L300.60 1135.5L300.60 1112.2L301.35 1112.2L301.35 1104.9L302.10 1104.9L302.10 1088.7L302.85 1088.7L302.85 1073.1L303.60 1073.1L303.60 1059.1L304.35 1059.1L304.35 1050.2L305.10 1050.2L305.10 1070.8L305.85 1070.8L305.85 1074.2L306.60 1074.2L306.60 1075.7L307.35 1075.7L307.35 1085.4L308.10 1085.4L308.10 1087.2L308.85 1087.2L308.85 1088.7L309.60 1088.7L309.60 1091.0L310.35 1091.0L310.35 1102.6L311.10 1102.6L311.10 1103.3L311.85 1103.3L311.85 1116.8L312.60 1116.8L312.60 1117.3L313.35 1117.3L313.35 1121.6L314.10 1121.6L314.10 1119.4L314.85 1119.4L314.85 1125.6L315.60 1125.6L315.60 1120.7L316.35 1120.7L316.35 1130.8L317.10 1130.8L317.10 1130.3L317.85 1130.3L317.85 1129.2L318.60 1129.2L318.60 1137.4L319.35 1137.4L319.35 1132.7L320.10 1132.7L320.10 1127.1L320.85 1127.1L320.85 1130.3L321.60 1130.3L321.60 1130.5L322.35 1130.5L322.35 1135.0L323.10 1135.0L323.10 1132.6L323.85 1132.6L323.85 1133.8L324.60 1133.8L324.60 1133.4L325.35 1133.4L325.35 1136.2L326.10 1136.2L326.10 1133.7L326.85 1133.7L326.85 1138.9L327.60 1138.9L327.60 1140.4L328.35 1140.4L328.35 1136.3L329.10 1136.3L329.10 1133.3L329.85 1133.3L329.85 1140.0L330.60 1140.0L330.60 1136.4L331.35 1136.4L331.35 1140.5L332.10 1140.5L332.10 1133.3L332.85 1133.3L332.85 1136.0L333.60 1136.0L333.60 1137.4L334.35 1137.4L334.35 1138.7L335.10 1138.7L335.10 1137.6L335.85 1137.6L335.85 1139.5L336.60 1139.5L336.60 1138.0L337.35 1138.0L337.35 1140.8L338.10 1140.8L338.10 1138.7L338.85 1138.7L338.85 1141.2L339.60 1141.2L339.60 1138.3L340.35 1138.3L340.35 1138.4L341.10 1138.4L341.10 1139.7L341.85 1139.7L341.85 1137.2L342.60 1137.2L342.60 1140.6L343.35 1140.6L343.35 1139.2L344.10 1139.2L344.10 1135.3L344.85 1135.3L344.85 1140.0L345.60 1140.0L345.60 1142.1L346.35 1142.1L346.35 1137.4L347.10 1137.4L347.10 1138.2L347.85 1138.2L347.85 1138.1L348.60 1138.1L348.60 1135.3L349.35 1135.3L349.35 1134.0L350.10 1134.0L350.10 1135.7L350.85 1135.7L350.85 1133.2L351.60 1133.2L351.60 1135.2L352.35 1135.2L352.35 1138.8L353.10 1138.8L353.10 1137.9L353.85 1137.9L353.85 1139.1L354.60 1139.1L354.60 1137.5L355.35 1137.5L355.35 1141.9L356.10 1141.9L356.10 1132.9L356.85 1132.9L356.85 1138.8L357.60 1138.8L357.60 1134.9L358.35 1134.9L358.35 1133.6L359.10 1133.6L359.10 1132.8L359.85 1132.8L359.85 1131.2L360.60 1131.2L360.60 1129.5L361.35 1129.5L361.35 1124.8L362.10 1124.8L362.10 1115.0L362.85 1115.0L362.85 1115.5L363.60 1115.5L363.60 1115.5L364.35 1115.5L364.35 1110.5L365.10 1110.5L365.10 1110.2L365.85 1110.2L365.85 1109.4L366.60 1109.4L366.60 1109.7L367.35 1109.7L367.35 1110.1L368.10 1110.1L368.10 1108.1L368.85 1108.1L368.85 1101.6L369.60 1101.6L369.60 1100.2L370.35 1100.2L370.35 1114.1L371.10 1114.1L371.10 1117.1L371.85 1117.1L371.85 1129.6L372.60 1129.6L372.60 1134.3L373.35 1134.3L373.35 1143.2L374.10 1143.2L374.10 1161.7L374.85 1161.7L374.85 1162.0L375.60 1162.0L375.60 1166.7L376.35 1166.7L376.35 1171.5L377.10 1171.5L377.0 1173.6Z" fill="#000" filter="url(#b0)"/>
<text x="289.5" y="1054.7" font-size="15.5" textLength="30.3" lengthAdjust="spacingAndGlyphs" fill="#111" stroke="#111" stroke-width="0.45">23%</text>
<text x="347.8" y="1054.7" font-size="15.5" textLength="30.7" lengthAdjust="spacingAndGlyphs" fill="#111" stroke="#111" stroke-width="0.45">26%</text>
<text x="322.4" y="1071.3" font-size="15.5" textLength="30.1" lengthAdjust="spacingAndGlyphs" fill="#111" stroke="#111" stroke-width="0.45">51%</text>
<line x1="439.4" y1="1025.6" x2="439.4" y2="1175.2" stroke="#3a3a3a" stroke-width="1.9" stroke-linecap="butt"/>
<line x1="436.4" y1="1174.6" x2="594.2" y2="1174.6" stroke="#3a3a3a" stroke-width="1.9" stroke-linecap="butt"/>
<line x1="435.2" y1="1174.6" x2="439.4" y2="1174.6" stroke="#3a3a3a" stroke-width="1.9" stroke-linecap="butt"/>
<line x1="436.8" y1="1159.8" x2="439.4" y2="1159.8" stroke="#3a3a3a" stroke-width="1.3" stroke-linecap="butt"/>
<line x1="436.8" y1="1144.9" x2="439.4" y2="1144.9" stroke="#3a3a3a" stroke-width="1.3" stroke-linecap="butt"/>
<line x1="436.8" y1="1130.1" x2="439.4" y2="1130.1" stroke="#3a3a3a" stroke-width="1.3" stroke-linecap="butt"/>
<line x1="435.2" y1="1115.2" x2="439.4" y2="1115.2" stroke="#3a3a3a" stroke-width="1.9" stroke-linecap="butt"/>
<line x1="436.8" y1="1100.4" x2="439.4" y2="1100.4" stroke="#3a3a3a" stroke-width="1.3" stroke-linecap="butt"/>
<line x1="436.8" y1="1085.5" x2="439.4" y2="1085.5" stroke="#3a3a3a" stroke-width="1.3" stroke-linecap="butt"/>
<line x1="436.8" y1="1070.7" x2="439.4" y2="1070.7" stroke="#3a3a3a" stroke-width="1.3" stroke-linecap="butt"/>
<line x1="435.2" y1="1055.8" x2="439.4" y2="1055.8" stroke="#3a3a3a" stroke-width="1.9" stroke-linecap="butt"/>
<line x1="436.8" y1="1041.0" x2="439.4" y2="1041.0" stroke="#3a3a3a" stroke-width="1.3" stroke-linecap="butt"/>
<line x1="451.6" y1="1174.6" x2="451.6" y2="1178.0" stroke="#2a2a2a" stroke-width="1.5" stroke-linecap="butt"/>
<line x1="457.9" y1="1174.6" x2="457.9" y2="1177.2" stroke="#2a2a2a" stroke-width="1.5" stroke-linecap="butt"/>
<line x1="464.1" y1="1174.6" x2="464.1" y2="1177.2" stroke="#2a2a2a" stroke-width="1.5" stroke-linecap="butt"/>
<line x1="470.4" y1="1174.6" x2="470.4" y2="1177.2" stroke="#2a2a2a" stroke-width="1.5" stroke-linecap="butt"/>
<line x1="476.7" y1="1174.6" x2="476.7" y2="1177.2" stroke="#2a2a2a" stroke-width="1.5" stroke-linecap="butt"/>
<line x1="482.9" y1="1174.6" x2="482.9" y2="1177.2" stroke="#2a2a2a" stroke-width="1.5" stroke-linecap="butt"/>
<line x1="489.2" y1="1174.6" x2="489.2" y2="1178.0" stroke="#2a2a2a" stroke-width="1.5" stroke-linecap="butt"/>
<line x1="495.5" y1="1174.6" x2="495.5" y2="1177.2" stroke="#2a2a2a" stroke-width="1.5" stroke-linecap="butt"/>
<line x1="501.7" y1="1174.6" x2="501.7" y2="1177.2" stroke="#2a2a2a" stroke-width="1.5" stroke-linecap="butt"/>
<line x1="508.0" y1="1174.6" x2="508.0" y2="1177.2" stroke="#2a2a2a" stroke-width="1.5" stroke-linecap="butt"/>
<line x1="514.3" y1="1174.6" x2="514.3" y2="1177.2" stroke="#2a2a2a" stroke-width="1.5" stroke-linecap="butt"/>
<line x1="520.5" y1="1174.6" x2="520.5" y2="1177.2" stroke="#2a2a2a" stroke-width="1.5" stroke-linecap="butt"/>
<line x1="526.8" y1="1174.6" x2="526.8" y2="1178.0" stroke="#2a2a2a" stroke-width="1.5" stroke-linecap="butt"/>
<line x1="533.1" y1="1174.6" x2="533.1" y2="1177.2" stroke="#2a2a2a" stroke-width="1.5" stroke-linecap="butt"/>
<line x1="539.3" y1="1174.6" x2="539.3" y2="1177.2" stroke="#2a2a2a" stroke-width="1.5" stroke-linecap="butt"/>
<line x1="545.6" y1="1174.6" x2="545.6" y2="1177.2" stroke="#2a2a2a" stroke-width="1.5" stroke-linecap="butt"/>
<line x1="551.9" y1="1174.6" x2="551.9" y2="1177.2" stroke="#2a2a2a" stroke-width="1.5" stroke-linecap="butt"/>
<line x1="558.1" y1="1174.6" x2="558.1" y2="1177.2" stroke="#2a2a2a" stroke-width="1.5" stroke-linecap="butt"/>
<line x1="564.4" y1="1174.6" x2="564.4" y2="1178.0" stroke="#2a2a2a" stroke-width="1.5" stroke-linecap="butt"/>
<line x1="570.7" y1="1174.6" x2="570.7" y2="1177.2" stroke="#2a2a2a" stroke-width="1.5" stroke-linecap="butt"/>
<line x1="576.9" y1="1174.6" x2="576.9" y2="1177.2" stroke="#2a2a2a" stroke-width="1.5" stroke-linecap="butt"/>
<line x1="583.2" y1="1174.6" x2="583.2" y2="1177.2" stroke="#2a2a2a" stroke-width="1.5" stroke-linecap="butt"/>
<line x1="589.5" y1="1174.6" x2="589.5" y2="1177.2" stroke="#2a2a2a" stroke-width="1.5" stroke-linecap="butt"/>
<path d="M478.3 1174.6L478.30 1174.6L479.05 1174.6L479.05 1167.6L479.80 1167.6L479.80 1165.7L480.55 1165.7L480.55 1162.6L481.30 1162.6L481.30 1163.2L482.05 1163.2L482.05 1161.9L482.80 1161.9L482.80 1139.9L483.55 1139.9L483.55 1112.7L484.30 1112.7L484.30 1098.5L485.05 1098.5L485.05 1082.6L485.80 1082.6L485.80 1071.8L486.55 1071.8L486.55 1063.3L487.30 1063.3L487.30 1049.2L488.05 1049.2L488.05 1053.6L488.80 1053.6L488.80 1063.9L489.55 1063.9L489.55 1074.2L490.30 1074.2L490.30 1079.0L491.05 1079.0L491.05 1087.0L491.80 1087.0L491.80 1099.9L492.55 1099.9L492.55 1110.8L493.30 1110.8L493.30 1112.2L494.05 1112.2L494.05 1116.4L494.80 1116.4L494.80 1126.4L495.55 1126.4L495.55 1125.1L496.30 1125.1L496.30 1130.7L497.05 1130.7L497.05 1128.8L497.80 1128.8L497.80 1130.9L498.55 1130.9L498.55 1127.3L499.30 1127.3L499.30 1132.0L500.05 1132.0L500.05 1131.6L500.80 1131.6L500.80 1136.3L501.55 1136.3L501.55 1133.5L502.30 1133.5L502.30 1141.6L503.05 1141.6L503.05 1142.9L503.80 1142.9L503.80 1141.9L504.55 1141.9L504.55 1143.7L505.30 1143.7L505.30 1143.1L506.05 1143.1L506.05 1144.3L506.80 1144.3L506.80 1145.9L507.55 1145.9L507.55 1141.9L508.30 1141.9L508.30 1146.8L509.05 1146.8L509.05 1145.3L509.80 1145.3L509.80 1148.2L510.55 1148.2L510.55 1140.5L511.30 1140.5L511.30 1147.7L512.05 1147.7L512.05 1141.3L512.80 1141.3L512.80 1145.5L513.55 1145.5L513.55 1148.5L514.30 1148.5L514.30 1144.0L515.05 1144.0L515.05 1146.7L515.80 1146.7L515.80 1144.7L516.55 1144.7L516.55 1148.2L517.30 1148.2L517.30 1151.1L518.05 1151.1L518.05 1144.6L518.80 1144.6L518.80 1146.4L519.55 1146.4L519.55 1149.4L520.30 1149.4L520.30 1142.5L521.05 1142.5L521.05 1143.9L521.80 1143.9L521.80 1152.3L522.55 1152.3L522.55 1155.3L523.30 1155.3L523.30 1149.4L524.05 1149.4L524.05 1153.4L524.80 1153.4L524.80 1152.8L525.55 1152.8L525.55 1146.4L526.30 1146.4L526.30 1146.5L527.05 1146.5L527.05 1139.4L527.80 1139.4L527.80 1144.5L528.55 1144.5L528.55 1142.4L529.30 1142.4L529.30 1139.9L530.05 1139.9L530.05 1142.4L530.80 1142.4L530.80 1142.7L531.55 1142.7L531.55 1144.9L532.30 1144.9L532.30 1142.6L533.05 1142.6L533.05 1141.1L533.80 1141.1L533.80 1141.6L534.55 1141.6L534.55 1141.9L535.30 1141.9L535.30 1141.4L536.05 1141.4L536.05 1138.4L536.80 1138.4L536.80 1141.7L537.55 1141.7L537.55 1145.1L538.30 1145.1L538.30 1140.8L539.05 1140.8L539.05 1143.1L539.80 1143.1L539.80 1138.5L540.55 1138.5L540.55 1131.0L541.30 1131.0L541.30 1128.9L542.05 1128.9L542.05 1122.0L542.80 1122.0L542.80 1120.7L543.55 1120.7L543.55 1121.2L544.30 1121.2L544.30 1106.4L545.05 1106.4L545.05 1106.0L545.80 1106.0L545.80 1108.7L546.55 1108.7L546.55 1102.0L547.30 1102.0L547.30 1097.2L548.05 1097.2L548.05 1091.0L548.80 1091.0L548.80 1092.9L549.55 1092.9L549.55 1085.2L550.30 1085.2L550.30 1094.3L551.05 1094.3L551.05 1095.0L551.80 1095.0L551.80 1099.8L552.55 1099.8L552.55 1103.3L553.30 1103.3L553.30 1115.5L554.05 1115.5L554.05 1123.5L554.80 1123.5L554.80 1126.3L555.55 1126.3L555.55 1144.5L556.30 1144.5L556.30 1150.4L557.05 1150.4L557.05 1157.4L557.80 1157.4L557.80 1161.0L558.55 1161.0L558.55 1172.0L559.30 1172.0L558.8 1174.6Z" fill="#000" filter="url(#b0)"/>
<text x="475.4" y="1049.6" font-size="15.5" textLength="29.9" lengthAdjust="spacingAndGlyphs" fill="#111" stroke="#111" stroke-width="0.45">24%</text>
<text x="533.4" y="1049.6" font-size="15.5" textLength="30.1" lengthAdjust="spacingAndGlyphs" fill="#111" stroke="#111" stroke-width="0.45">26%</text>
<text x="508.3" y="1066.2" font-size="15.5" textLength="29.8" lengthAdjust="spacingAndGlyphs" fill="#111" stroke="#111" stroke-width="0.45">48%</text>
<line x1="618.0" y1="1026.0" x2="618.0" y2="1176.9" stroke="#333" stroke-width="1.9" stroke-linecap="butt"/>
<line x1="615.0" y1="1176.3" x2="761.3" y2="1176.3" stroke="#333" stroke-width="1.9" stroke-linecap="butt"/>
<line x1="613.8" y1="1176.3" x2="618.0" y2="1176.3" stroke="#333" stroke-width="1.9" stroke-linecap="butt"/>
<line x1="615.4" y1="1161.5" x2="618.0" y2="1161.5" stroke="#333" stroke-width="1.3" stroke-linecap="butt"/>
<line x1="615.4" y1="1146.6" x2="618.0" y2="1146.6" stroke="#333" stroke-width="1.3" stroke-linecap="butt"/>
<line x1="615.4" y1="1131.8" x2="618.0" y2="1131.8" stroke="#333" stroke-width="1.3" stroke-linecap="butt"/>
<line x1="613.8" y1="1116.9" x2="618.0" y2="1116.9" stroke="#333" stroke-width="1.9" stroke-linecap="butt"/>
<line x1="615.4" y1="1102.1" x2="618.0" y2="1102.1" stroke="#333" stroke-width="1.3" stroke-linecap="butt"/>
<line x1="615.4" y1="1087.2" x2="618.0" y2="1087.2" stroke="#333" stroke-width="1.3" stroke-linecap="butt"/>
<line x1="615.4" y1="1072.4" x2="618.0" y2="1072.4" stroke="#333" stroke-width="1.3" stroke-linecap="butt"/>
<line x1="613.8" y1="1057.5" x2="618.0" y2="1057.5" stroke="#333" stroke-width="1.9" stroke-linecap="butt"/>
<line x1="615.4" y1="1042.7" x2="618.0" y2="1042.7" stroke="#333" stroke-width="1.3" stroke-linecap="butt"/>
<line x1="627.8" y1="1176.3" x2="627.8" y2="1179.7" stroke="#2a2a2a" stroke-width="1.5" stroke-linecap="butt"/>
<line x1="634.1" y1="1176.3" x2="634.1" y2="1178.9" stroke="#2a2a2a" stroke-width="1.5" stroke-linecap="butt"/>
<line x1="640.3" y1="1176.3" x2="640.3" y2="1178.9" stroke="#2a2a2a" stroke-width="1.5" stroke-linecap="butt"/>
<line x1="646.6" y1="1176.3" x2="646.6" y2="1178.9" stroke="#2a2a2a" stroke-width="1.5" stroke-linecap="butt"/>
<line x1="652.9" y1="1176.3" x2="652.9" y2="1178.9" stroke="#2a2a2a" stroke-width="1.5" stroke-linecap="butt"/>
<line x1="659.1" y1="1176.3" x2="659.1" y2="1178.9" stroke="#2a2a2a" stroke-width="1.5" stroke-linecap="butt"/>
<line x1="665.4" y1="1176.3" x2="665.4" y2="1179.7" stroke="#2a2a2a" stroke-width="1.5" stroke-linecap="butt"/>
<line x1="671.7" y1="1176.3" x2="671.7" y2="1178.9" stroke="#2a2a2a" stroke-width="1.5" stroke-linecap="butt"/>
<line x1="677.9" y1="1176.3" x2="677.9" y2="1178.9" stroke="#2a2a2a" stroke-width="1.5" stroke-linecap="butt"/>
<line x1="684.2" y1="1176.3" x2="684.2" y2="1178.9" stroke="#2a2a2a" stroke-width="1.5" stroke-linecap="butt"/>
<line x1="690.5" y1="1176.3" x2="690.5" y2="1178.9" stroke="#2a2a2a" stroke-width="1.5" stroke-linecap="butt"/>
<line x1="696.7" y1="1176.3" x2="696.7" y2="1178.9" stroke="#2a2a2a" stroke-width="1.5" stroke-linecap="butt"/>
<line x1="703.0" y1="1176.3" x2="703.0" y2="1179.7" stroke="#2a2a2a" stroke-width="1.5" stroke-linecap="butt"/>
<line x1="709.3" y1="1176.3" x2="709.3" y2="1178.9" stroke="#2a2a2a" stroke-width="1.5" stroke-linecap="butt"/>
<line x1="715.5" y1="1176.3" x2="715.5" y2="1178.9" stroke="#2a2a2a" stroke-width="1.5" stroke-linecap="butt"/>
<line x1="721.8" y1="1176.3" x2="721.8" y2="1178.9" stroke="#2a2a2a" stroke-width="1.5" stroke-linecap="butt"/>
<line x1="728.1" y1="1176.3" x2="728.1" y2="1178.9" stroke="#2a2a2a" stroke-width="1.5" stroke-linecap="butt"/>
<line x1="734.3" y1="1176.3" x2="734.3" y2="1178.9" stroke="#2a2a2a" stroke-width="1.5" stroke-linecap="butt"/>
<line x1="740.6" y1="1176.3" x2="740.6" y2="1179.7" stroke="#2a2a2a" stroke-width="1.5" stroke-linecap="butt"/>
<line x1="746.9" y1="1176.3" x2="746.9" y2="1178.9" stroke="#2a2a2a" stroke-width="1.5" stroke-linecap="butt"/>
<line x1="753.1" y1="1176.3" x2="753.1" y2="1178.9" stroke="#2a2a2a" stroke-width="1.5" stroke-linecap="butt"/>
<line x1="759.4" y1="1176.3" x2="759.4" y2="1178.9" stroke="#2a2a2a" stroke-width="1.5" stroke-linecap="butt"/>
<path d="M656.7 1176.3L656.70 1176.3L657.45 1176.3L657.45 1173.0L658.20 1173.0L658.20 1169.9L658.95 1169.9L658.95 1160.0L659.70 1160.0L659.70 1144.5L660.45 1144.5L660.45 1136.9L661.20 1136.9L661.20 1113.5L661.95 1113.5L661.95 1094.6L662.70 1094.6L662.70 1084.7L663.45 1084.7L663.45 1074.7L664.20 1074.7L664.20 1071.1L664.95 1071.1L664.95 1079.3L665.70 1079.3L665.70 1075.4L666.45 1075.4L666.45 1071.0L667.20 1071.0L667.20 1081.2L667.95 1081.2L667.95 1092.0L668.70 1092.0L668.70 1115.2L669.45 1115.2L669.45 1110.7L670.20 1110.7L670.20 1111.8L670.95 1111.8L670.95 1117.9L671.70 1117.9L671.70 1120.3L672.45 1120.3L672.45 1133.8L673.20 1133.8L673.20 1139.4L673.95 1139.4L673.95 1133.2L674.70 1133.2L674.70 1140.3L675.45 1140.3L675.45 1138.9L676.20 1138.9L676.20 1140.5L676.95 1140.5L676.95 1141.4L677.70 1141.4L677.70 1143.4L678.45 1143.4L678.45 1143.7L679.20 1143.7L679.20 1140.1L679.95 1140.1L679.95 1144.0L680.70 1144.0L680.70 1147.0L681.45 1147.0L681.45 1146.7L682.20 1146.7L682.20 1147.2L682.95 1147.2L682.95 1150.0L683.70 1150.0L683.70 1148.9L684.45 1148.9L684.45 1151.4L685.20 1151.4L685.20 1150.8L685.95 1150.8L685.95 1153.4L686.70 1153.4L686.70 1149.0L687.45 1149.0L687.45 1148.7L688.20 1148.7L688.20 1146.8L688.95 1146.8L688.95 1150.1L689.70 1150.1L689.70 1150.9L690.45 1150.9L690.45 1150.7L691.20 1150.7L691.20 1150.2L691.95 1150.2L691.95 1149.8L692.70 1149.8L692.70 1151.2L693.45 1151.2L693.45 1149.3L694.20 1149.3L694.20 1153.0L694.95 1153.0L694.95 1144.5L695.70 1144.5L695.70 1151.9L696.45 1151.9L696.45 1147.1L697.20 1147.1L697.20 1148.6L697.95 1148.6L697.95 1154.5L698.70 1154.5L698.70 1154.6L699.45 1154.6L699.45 1151.5L700.20 1151.5L700.20 1148.3L700.95 1148.3L700.95 1154.5L701.70 1154.5L701.70 1156.9L702.45 1156.9L702.45 1153.5L703.20 1153.5L703.20 1156.1L703.95 1156.1L703.95 1153.8L704.70 1153.8L704.70 1148.3L705.45 1148.3L705.45 1152.6L706.20 1152.6L706.20 1154.4L706.95 1154.4L706.95 1153.6L707.70 1153.6L707.70 1152.5L708.45 1152.5L708.45 1147.2L709.20 1147.2L709.20 1150.5L709.95 1150.5L709.95 1149.4L710.70 1149.4L710.70 1152.4L711.45 1152.4L711.45 1156.3L712.20 1156.3L712.20 1153.0L712.95 1153.0L712.95 1145.4L713.70 1145.4L713.70 1151.9L714.45 1151.9L714.45 1149.5L715.20 1149.5L715.20 1150.9L715.95 1150.9L715.95 1149.8L716.70 1149.8L716.70 1143.3L717.45 1143.3L717.45 1141.9L718.20 1141.9L718.20 1136.3L718.95 1136.3L718.95 1132.0L719.70 1132.0L719.70 1126.1L720.45 1126.1L720.45 1113.3L721.20 1113.3L721.20 1102.7L721.95 1102.7L721.95 1104.0L722.70 1104.0L722.70 1098.0L723.45 1098.0L723.45 1091.9L724.20 1091.9L724.20 1093.8L724.95 1093.8L724.95 1089.3L725.70 1089.3L725.70 1088.4L726.45 1088.4L726.45 1092.7L727.20 1092.7L727.20 1094.0L727.95 1094.0L727.95 1094.0L728.70 1094.0L728.70 1097.9L729.45 1097.9L729.45 1110.7L730.20 1110.7L730.20 1116.7L730.95 1116.7L730.95 1124.0L731.70 1124.0L731.70 1129.3L732.45 1129.3L732.45 1130.5L733.20 1130.5L733.20 1143.7L733.95 1143.7L733.95 1145.5L734.70 1145.5L734.70 1155.6L735.45 1155.6L735.45 1165.2L736.20 1165.2L736.20 1168.1L736.95 1168.1L736.95 1173.5L737.70 1173.5L737.70 1175.3L738.45 1175.3L738.2 1176.3Z" fill="#000" filter="url(#b0)"/>
<text x="649.9" y="1066.2" font-size="15.5" textLength="30.3" lengthAdjust="spacingAndGlyphs" fill="#111" stroke="#111" stroke-width="0.45">29%</text>
<text x="707.9" y="1066.2" font-size="15.5" textLength="30.1" lengthAdjust="spacingAndGlyphs" fill="#111" stroke="#111" stroke-width="0.45">28%</text>
<text x="682.7" y="1082.8" font-size="15.5" textLength="29.9" lengthAdjust="spacingAndGlyphs" fill="#111" stroke="#111" stroke-width="0.45">43%</text>
<line x1="77.5" y1="1229.7" x2="77.5" y2="1400.4" stroke="#3a3a3a" stroke-width="1.9" stroke-linecap="butt"/>
<line x1="74.5" y1="1399.8" x2="235.0" y2="1399.8" stroke="#3a3a3a" stroke-width="1.9" stroke-linecap="butt"/>
<line x1="73.3" y1="1399.8" x2="77.5" y2="1399.8" stroke="#3a3a3a" stroke-width="1.9" stroke-linecap="butt"/>
<line x1="74.9" y1="1385.0" x2="77.5" y2="1385.0" stroke="#3a3a3a" stroke-width="1.3" stroke-linecap="butt"/>
<line x1="74.9" y1="1370.1" x2="77.5" y2="1370.1" stroke="#3a3a3a" stroke-width="1.3" stroke-linecap="butt"/>
<line x1="74.9" y1="1355.3" x2="77.5" y2="1355.3" stroke="#3a3a3a" stroke-width="1.3" stroke-linecap="butt"/>
<line x1="73.3" y1="1340.4" x2="77.5" y2="1340.4" stroke="#3a3a3a" stroke-width="1.9" stroke-linecap="butt"/>
<line x1="74.9" y1="1325.6" x2="77.5" y2="1325.6" stroke="#3a3a3a" stroke-width="1.3" stroke-linecap="butt"/>
<line x1="74.9" y1="1310.7" x2="77.5" y2="1310.7" stroke="#3a3a3a" stroke-width="1.3" stroke-linecap="butt"/>
<line x1="74.9" y1="1295.9" x2="77.5" y2="1295.9" stroke="#3a3a3a" stroke-width="1.3" stroke-linecap="butt"/>
<line x1="73.3" y1="1281.0" x2="77.5" y2="1281.0" stroke="#3a3a3a" stroke-width="1.9" stroke-linecap="butt"/>
<line x1="74.9" y1="1266.2" x2="77.5" y2="1266.2" stroke="#3a3a3a" stroke-width="1.3" stroke-linecap="butt"/>
<line x1="74.9" y1="1251.3" x2="77.5" y2="1251.3" stroke="#3a3a3a" stroke-width="1.3" stroke-linecap="butt"/>
<line x1="74.9" y1="1236.5" x2="77.5" y2="1236.5" stroke="#3a3a3a" stroke-width="1.3" stroke-linecap="butt"/>
<line x1="91.4" y1="1399.8" x2="91.4" y2="1403.2" stroke="#2a2a2a" stroke-width="1.5" stroke-linecap="butt"/>
<line x1="97.6" y1="1399.8" x2="97.6" y2="1402.4" stroke="#2a2a2a" stroke-width="1.5" stroke-linecap="butt"/>
<line x1="103.9" y1="1399.8" x2="103.9" y2="1402.4" stroke="#2a2a2a" stroke-width="1.5" stroke-linecap="butt"/>
<line x1="110.1" y1="1399.8" x2="110.1" y2="1402.4" stroke="#2a2a2a" stroke-width="1.5" stroke-linecap="butt"/>
<line x1="116.3" y1="1399.8" x2="116.3" y2="1402.4" stroke="#2a2a2a" stroke-width="1.5" stroke-linecap="butt"/>
<line x1="122.6" y1="1399.8" x2="122.6" y2="1402.4" stroke="#2a2a2a" stroke-width="1.5" stroke-linecap="butt"/>
<line x1="128.8" y1="1399.8" x2="128.8" y2="1403.2" stroke="#2a2a2a" stroke-width="1.5" stroke-linecap="butt"/>
<line x1="135.0" y1="1399.8" x2="135.0" y2="1402.4" stroke="#2a2a2a" stroke-width="1.5" stroke-linecap="butt"/>
<line x1="141.3" y1="1399.8" x2="141.3" y2="1402.4" stroke="#2a2a2a" stroke-width="1.5" stroke-linecap="butt"/>
<line x1="147.5" y1="1399.8" x2="147.5" y2="1402.4" stroke="#2a2a2a" stroke-width="1.5" stroke-linecap="butt"/>
<line x1="153.7" y1="1399.8" x2="153.7" y2="1402.4" stroke="#2a2a2a" stroke-width="1.5" stroke-linecap="butt"/>
<line x1="160.0" y1="1399.8" x2="160.0" y2="1402.4" stroke="#2a2a2a" stroke-width="1.5" stroke-linecap="butt"/>
<line x1="166.2" y1="1399.8" x2="166.2" y2="1403.2" stroke="#2a2a2a" stroke-width="1.5" stroke-linecap="butt"/>
<line x1="172.4" y1="1399.8" x2="172.4" y2="1402.4" stroke="#2a2a2a" stroke-width="1.5" stroke-linecap="butt"/>
<line x1="178.7" y1="1399.8" x2="178.7" y2="1402.4" stroke="#2a2a2a" stroke-width="1.5" stroke-linecap="butt"/>
<line x1="184.9" y1="1399.8" x2="184.9" y2="1402.4" stroke="#2a2a2a" stroke-width="1.5" stroke-linecap="butt"/>
<line x1="191.1" y1="1399.8" x2="191.1" y2="1402.4" stroke="#2a2a2a" stroke-width="1.5" stroke-linecap="butt"/>
<line x1="197.4" y1="1399.8" x2="197.4" y2="1402.4" stroke="#2a2a2a" stroke-width="1.5" stroke-linecap="butt"/>
<line x1="203.6" y1="1399.8" x2="203.6" y2="1403.2" stroke="#2a2a2a" stroke-width="1.5" stroke-linecap="butt"/>
<line x1="209.8" y1="1399.8" x2="209.8" y2="1402.4" stroke="#2a2a2a" stroke-width="1.5" stroke-linecap="butt"/>
<line x1="216.1" y1="1399.8" x2="216.1" y2="1402.4" stroke="#2a2a2a" stroke-width="1.5" stroke-linecap="butt"/>
<line x1="222.3" y1="1399.8" x2="222.3" y2="1402.4" stroke="#2a2a2a" stroke-width="1.5" stroke-linecap="butt"/>
<line x1="228.5" y1="1399.8" x2="228.5" y2="1402.4" stroke="#2a2a2a" stroke-width="1.5" stroke-linecap="butt"/>
<path d="M117.1 1399.8L117.10 1399.8L117.85 1399.8L117.85 1353.7L118.60 1353.7L118.60 1342.8L119.35 1342.8L119.35 1336.8L120.10 1336.8L120.10 1309.6L120.85 1309.6L120.85 1275.2L121.60 1275.2L121.60 1242.4L122.35 1242.4L122.35 1244.3L123.10 1244.3L123.10 1237.0L123.85 1237.0L123.85 1233.8L124.60 1233.8L124.60 1255.6L125.35 1255.6L125.35 1286.8L126.10 1286.8L126.10 1298.5L126.85 1298.5L126.85 1304.5L127.60 1304.5L127.60 1320.7L128.35 1320.7L128.35 1327.0L129.10 1327.0L129.10 1337.1L129.85 1337.1L129.85 1342.0L130.60 1342.0L130.60 1355.5L131.35 1355.5L131.35 1357.6L132.10 1357.6L132.10 1356.8L132.85 1356.8L132.85 1359.5L133.60 1359.5L133.60 1358.1L134.35 1358.1L134.35 1357.9L135.10 1357.9L135.10 1365.6L135.85 1365.6L135.85 1369.5L136.60 1369.5L136.60 1364.8L137.35 1364.8L137.35 1366.2L138.10 1366.2L138.10 1367.4L138.85 1367.4L138.85 1367.2L139.60 1367.2L139.60 1368.0L140.35 1368.0L140.35 1366.7L141.10 1366.7L141.10 1364.7L141.85 1364.7L141.85 1367.4L142.60 1367.4L142.60 1366.5L143.35 1366.5L143.35 1368.1L144.10 1368.1L144.10 1370.9L144.85 1370.9L144.85 1371.5L145.60 1371.5L145.60 1375.7L146.35 1375.7L146.35 1372.5L147.10 1372.5L147.10 1372.2L147.85 1372.2L147.85 1367.6L148.60 1367.6L148.60 1368.0L149.35 1368.0L149.35 1371.0L150.10 1371.0L150.10 1367.6L150.85 1367.6L150.85 1372.4L151.60 1372.4L151.60 1374.7L152.35 1374.7L152.35 1368.3L153.10 1368.3L153.10 1363.5L153.85 1363.5L153.85 1368.8L154.60 1368.8L154.60 1364.8L155.35 1364.8L155.35 1367.3L156.10 1367.3L156.10 1369.9L156.85 1369.9L156.85 1368.7L157.60 1368.7L157.60 1368.1L158.35 1368.1L158.35 1368.7L159.10 1368.7L159.10 1361.1L159.85 1361.1L159.85 1366.0L160.60 1366.0L160.60 1365.2L161.35 1365.2L161.35 1369.9L162.10 1369.9L162.10 1372.7L162.85 1372.7L162.85 1375.6L163.60 1375.6L163.60 1368.8L164.35 1368.8L164.35 1367.7L165.10 1367.7L165.10 1364.0L165.85 1364.0L165.85 1360.7L166.60 1360.7L166.60 1361.1L167.35 1361.1L167.35 1354.4L168.10 1354.4L168.10 1356.4L168.85 1356.4L168.85 1351.7L169.60 1351.7L169.60 1360.1L170.35 1360.1L170.35 1361.6L171.10 1361.6L171.10 1363.1L171.85 1363.1L171.85 1359.9L172.60 1359.9L172.60 1362.3L173.35 1362.3L173.35 1361.4L174.10 1361.4L174.10 1359.5L174.85 1359.5L174.85 1360.4L175.60 1360.4L175.60 1357.8L176.35 1357.8L176.35 1357.2L177.10 1357.2L177.10 1355.1L177.85 1355.1L177.85 1355.8L178.60 1355.8L178.60 1349.9L179.35 1349.9L179.35 1338.8L180.10 1338.8L180.10 1338.7L180.85 1338.7L180.85 1329.2L181.60 1329.2L181.60 1320.0L182.35 1320.0L182.35 1303.4L183.10 1303.4L183.10 1304.4L183.85 1304.4L183.85 1307.0L184.60 1307.0L184.60 1298.6L185.35 1298.6L185.35 1292.2L186.10 1292.2L186.10 1293.1L186.85 1293.1L186.85 1296.1L187.60 1296.1L187.60 1308.3L188.35 1308.3L188.35 1314.5L189.10 1314.5L189.10 1321.6L189.85 1321.6L189.85 1337.5L190.60 1337.5L190.60 1352.6L191.35 1352.6L191.35 1365.4L192.10 1365.4L192.10 1369.9L192.85 1369.9L192.85 1372.4L193.60 1372.4L193.60 1377.1L194.35 1377.1L194.35 1381.2L195.10 1381.2L195.10 1392.5L195.85 1392.5L195.85 1391.5L196.60 1391.5L196.60 1397.4L197.35 1397.4L197.2 1399.8Z" fill="#000" filter="url(#b0)"/>
<text x="113.0" y="1233.6" font-size="15.5" textLength="29.7" lengthAdjust="spacingAndGlyphs" fill="#111" stroke="#111" stroke-width="0.45">31%</text>
<text x="170.8" y="1233.6" font-size="15.5" textLength="30.2" lengthAdjust="spacingAndGlyphs" fill="#111" stroke="#111" stroke-width="0.45">26%</text>
<text x="141.9" y="1250.2" font-size="15.5" textLength="29.8" lengthAdjust="spacingAndGlyphs" fill="#111" stroke="#111" stroke-width="0.45">43%</text>
<text x="90.6" y="1413.2" font-size="6.4" font-weight="bold" text-anchor="middle" textLength="10.0" lengthAdjust="spacingAndGlyphs" fill="#111" stroke="#111" stroke-width="0.35">50K</text>
<text x="129.0" y="1413.2" font-size="6.4" font-weight="bold" text-anchor="middle" textLength="12.5" lengthAdjust="spacingAndGlyphs" fill="#111" stroke="#111" stroke-width="0.35">100K</text>
<text x="166.0" y="1413.2" font-size="6.4" font-weight="bold" text-anchor="middle" textLength="12.5" lengthAdjust="spacingAndGlyphs" fill="#111" stroke="#111" stroke-width="0.35">150K</text>
<text x="203.0" y="1413.2" font-size="6.4" font-weight="bold" text-anchor="middle" textLength="12.5" lengthAdjust="spacingAndGlyphs" fill="#111" stroke="#111" stroke-width="0.35">200K</text>
<text x="233.0" y="1413.2" font-size="6.4" font-weight="bold" text-anchor="middle" fill="#111" stroke="#111" stroke-width="0.35">2</text>
<line x1="259.5" y1="1229.7" x2="259.5" y2="1400.4" stroke="#3a3a3a" stroke-width="1.9" stroke-linecap="butt"/>
<line x1="256.5" y1="1399.8" x2="421.4" y2="1399.8" stroke="#3a3a3a" stroke-width="1.9" stroke-linecap="butt"/>
<line x1="255.3" y1="1399.8" x2="259.5" y2="1399.8" stroke="#3a3a3a" stroke-width="1.9" stroke-linecap="butt"/>
<line x1="256.9" y1="1385.0" x2="259.5" y2="1385.0" stroke="#3a3a3a" stroke-width="1.3" stroke-linecap="butt"/>
<line x1="256.9" y1="1370.1" x2="259.5" y2="1370.1" stroke="#3a3a3a" stroke-width="1.3" stroke-linecap="butt"/>
<line x1="256.9" y1="1355.3" x2="259.5" y2="1355.3" stroke="#3a3a3a" stroke-width="1.3" stroke-linecap="butt"/>
<line x1="255.3" y1="1340.4" x2="259.5" y2="1340.4" stroke="#3a3a3a" stroke-width="1.9" stroke-linecap="butt"/>
<line x1="256.9" y1="1325.6" x2="259.5" y2="1325.6" stroke="#3a3a3a" stroke-width="1.3" stroke-linecap="butt"/>
<line x1="256.9" y1="1310.7" x2="259.5" y2="1310.7" stroke="#3a3a3a" stroke-width="1.3" stroke-linecap="butt"/>
<line x1="256.9" y1="1295.9" x2="259.5" y2="1295.9" stroke="#3a3a3a" stroke-width="1.3" stroke-linecap="butt"/>
<line x1="255.3" y1="1281.0" x2="259.5" y2="1281.0" stroke="#3a3a3a" stroke-width="1.9" stroke-linecap="butt"/>
<line x1="256.9" y1="1266.2" x2="259.5" y2="1266.2" stroke="#3a3a3a" stroke-width="1.3" stroke-linecap="butt"/>
<line x1="256.9" y1="1251.3" x2="259.5" y2="1251.3" stroke="#3a3a3a" stroke-width="1.3" stroke-linecap="butt"/>
<line x1="256.9" y1="1236.5" x2="259.5" y2="1236.5" stroke="#3a3a3a" stroke-width="1.3" stroke-linecap="butt"/>
<line x1="273.2" y1="1399.8" x2="273.2" y2="1403.2" stroke="#2a2a2a" stroke-width="1.5" stroke-linecap="butt"/>
<line x1="279.4" y1="1399.8" x2="279.4" y2="1402.4" stroke="#2a2a2a" stroke-width="1.5" stroke-linecap="butt"/>
<line x1="285.5" y1="1399.8" x2="285.5" y2="1402.4" stroke="#2a2a2a" stroke-width="1.5" stroke-linecap="butt"/>
<line x1="291.7" y1="1399.8" x2="291.7" y2="1402.4" stroke="#2a2a2a" stroke-width="1.5" stroke-linecap="butt"/>
<line x1="297.9" y1="1399.8" x2="297.9" y2="1402.4" stroke="#2a2a2a" stroke-width="1.5" stroke-linecap="butt"/>
<line x1="304.0" y1="1399.8" x2="304.0" y2="1402.4" stroke="#2a2a2a" stroke-width="1.5" stroke-linecap="butt"/>
<line x1="310.2" y1="1399.8" x2="310.2" y2="1403.2" stroke="#2a2a2a" stroke-width="1.5" stroke-linecap="butt"/>
<line x1="316.4" y1="1399.8" x2="316.4" y2="1402.4" stroke="#2a2a2a" stroke-width="1.5" stroke-linecap="butt"/>
<line x1="322.5" y1="1399.8" x2="322.5" y2="1402.4" stroke="#2a2a2a" stroke-width="1.5" stroke-linecap="butt"/>
<line x1="328.7" y1="1399.8" x2="328.7" y2="1402.4" stroke="#2a2a2a" stroke-width="1.5" stroke-linecap="butt"/>
<line x1="334.9" y1="1399.8" x2="334.9" y2="1402.4" stroke="#2a2a2a" stroke-width="1.5" stroke-linecap="butt"/>
<line x1="341.0" y1="1399.8" x2="341.0" y2="1402.4" stroke="#2a2a2a" stroke-width="1.5" stroke-linecap="butt"/>
<line x1="347.2" y1="1399.8" x2="347.2" y2="1403.2" stroke="#2a2a2a" stroke-width="1.5" stroke-linecap="butt"/>
<line x1="353.4" y1="1399.8" x2="353.4" y2="1402.4" stroke="#2a2a2a" stroke-width="1.5" stroke-linecap="butt"/>
<line x1="359.5" y1="1399.8" x2="359.5" y2="1402.4" stroke="#2a2a2a" stroke-width="1.5" stroke-linecap="butt"/>
<line x1="365.7" y1="1399.8" x2="365.7" y2="1402.4" stroke="#2a2a2a" stroke-width="1.5" stroke-linecap="butt"/>
<line x1="371.9" y1="1399.8" x2="371.9" y2="1402.4" stroke="#2a2a2a" stroke-width="1.5" stroke-linecap="butt"/>
<line x1="378.0" y1="1399.8" x2="378.0" y2="1402.4" stroke="#2a2a2a" stroke-width="1.5" stroke-linecap="butt"/>
<line x1="384.2" y1="1399.8" x2="384.2" y2="1403.2" stroke="#2a2a2a" stroke-width="1.5" stroke-linecap="butt"/>
<line x1="390.4" y1="1399.8" x2="390.4" y2="1402.4" stroke="#2a2a2a" stroke-width="1.5" stroke-linecap="butt"/>
<line x1="396.5" y1="1399.8" x2="396.5" y2="1402.4" stroke="#2a2a2a" stroke-width="1.5" stroke-linecap="butt"/>
<line x1="402.7" y1="1399.8" x2="402.7" y2="1402.4" stroke="#2a2a2a" stroke-width="1.5" stroke-linecap="butt"/>
<line x1="408.9" y1="1399.8" x2="408.9" y2="1402.4" stroke="#2a2a2a" stroke-width="1.5" stroke-linecap="butt"/>
<line x1="415.0" y1="1399.8" x2="415.0" y2="1402.4" stroke="#2a2a2a" stroke-width="1.5" stroke-linecap="butt"/>
<path d="M298.3 1399.8L298.30 1399.8L299.05 1399.8L299.05 1385.8L299.80 1385.8L299.80 1383.2L300.55 1383.2L300.55 1386.9L301.30 1386.9L301.30 1360.4L302.05 1360.4L302.05 1333.5L302.80 1333.5L302.80 1307.8L303.55 1307.8L303.55 1268.9L304.30 1268.9L304.30 1267.2L305.05 1267.2L305.05 1259.5L305.80 1259.5L305.80 1253.4L306.55 1253.4L306.55 1246.3L307.30 1246.3L307.30 1241.6L308.05 1241.6L308.05 1261.3L308.80 1261.3L308.80 1285.0L309.55 1285.0L309.55 1306.0L310.30 1306.0L310.30 1317.4L311.05 1317.4L311.05 1337.5L311.80 1337.5L311.80 1345.3L312.55 1345.3L312.55 1345.6L313.30 1345.6L313.30 1355.0L314.05 1355.0L314.05 1359.0L314.80 1359.0L314.80 1362.3L315.55 1362.3L315.55 1365.4L316.30 1365.4L316.30 1366.7L317.05 1366.7L317.05 1359.1L317.80 1359.1L317.80 1368.2L318.55 1368.2L318.55 1365.4L319.30 1365.4L319.30 1370.5L320.05 1370.5L320.05 1368.1L320.80 1368.1L320.80 1377.9L321.55 1377.9L321.55 1372.5L322.30 1372.5L322.30 1374.6L323.05 1374.6L323.05 1375.8L323.80 1375.8L323.80 1378.9L324.55 1378.9L324.55 1373.4L325.30 1373.4L325.30 1373.3L326.05 1373.3L326.05 1373.8L326.80 1373.8L326.80 1372.3L327.55 1372.3L327.55 1373.4L328.30 1373.4L328.30 1375.5L329.05 1375.5L329.05 1372.2L329.80 1372.2L329.80 1368.2L330.55 1368.2L330.55 1373.9L331.30 1373.9L331.30 1374.1L332.05 1374.1L332.05 1374.6L332.80 1374.6L332.80 1371.4L333.55 1371.4L333.55 1374.4L334.30 1374.4L334.30 1373.9L335.05 1373.9L335.05 1373.3L335.80 1373.3L335.80 1377.0L336.55 1377.0L336.55 1374.8L337.30 1374.8L337.30 1376.9L338.05 1376.9L338.05 1381.8L338.80 1381.8L338.80 1377.6L339.55 1377.6L339.55 1374.9L340.30 1374.9L340.30 1377.1L341.05 1377.1L341.05 1375.9L341.80 1375.9L341.80 1370.4L342.55 1370.4L342.55 1370.0L343.30 1370.0L343.30 1374.7L344.05 1374.7L344.05 1374.3L344.80 1374.3L344.80 1371.1L345.55 1371.1L345.55 1372.7L346.30 1372.7L346.30 1375.6L347.05 1375.6L347.05 1366.9L347.80 1366.9L347.80 1365.1L348.55 1365.1L348.55 1369.1L349.30 1369.1L349.30 1370.3L350.05 1370.3L350.05 1366.7L350.80 1366.7L350.80 1370.2L351.55 1370.2L351.55 1368.7L352.30 1368.7L352.30 1367.3L353.05 1367.3L353.05 1372.1L353.80 1372.1L353.80 1369.2L354.55 1369.2L354.55 1366.1L355.30 1366.1L355.30 1362.7L356.05 1362.7L356.05 1359.8L356.80 1359.8L356.80 1363.4L357.55 1363.4L357.55 1363.9L358.30 1363.9L358.30 1365.0L359.05 1365.0L359.05 1361.8L359.80 1361.8L359.80 1358.0L360.55 1358.0L360.55 1358.9L361.30 1358.9L361.30 1352.1L362.05 1352.1L362.05 1351.0L362.80 1351.0L362.80 1344.7L363.55 1344.7L363.55 1330.7L364.30 1330.7L364.30 1323.1L365.05 1323.1L365.05 1322.8L365.80 1322.8L365.80 1315.6L366.55 1315.6L366.55 1314.5L367.30 1314.5L367.30 1321.0L368.05 1321.0L368.05 1319.6L368.80 1319.6L368.80 1321.3L369.55 1321.3L369.55 1319.9L370.30 1319.9L370.30 1316.1L371.05 1316.1L371.05 1319.6L371.80 1319.6L371.80 1329.4L372.55 1329.4L372.55 1341.7L373.30 1341.7L373.30 1351.6L374.05 1351.6L374.05 1354.4L374.80 1354.4L374.80 1368.5L375.55 1368.5L375.55 1382.1L376.30 1382.1L376.30 1388.5L377.05 1388.5L377.05 1393.5L377.80 1393.5L377.80 1398.0L378.55 1398.0L378.1 1399.8Z" fill="#000" filter="url(#b0)"/>
<text x="300.0" y="1240.8" font-size="15.5" textLength="30.5" lengthAdjust="spacingAndGlyphs" fill="#111" stroke="#111" stroke-width="0.45">29%</text>
<text x="358.0" y="1240.8" font-size="15.5" textLength="30.1" lengthAdjust="spacingAndGlyphs" fill="#111" stroke="#111" stroke-width="0.45">26%</text>
<text x="332.9" y="1257.1" font-size="15.5" textLength="30.3" lengthAdjust="spacingAndGlyphs" fill="#111" stroke="#111" stroke-width="0.45">45%</text>
<text x="273.2" y="1413.2" font-size="6.4" font-weight="bold" text-anchor="middle" textLength="10.0" lengthAdjust="spacingAndGlyphs" fill="#111" stroke="#111" stroke-width="0.35">50K</text>
<text x="310.2" y="1413.2" font-size="6.4" font-weight="bold" text-anchor="middle" textLength="12.5" lengthAdjust="spacingAndGlyphs" fill="#111" stroke="#111" stroke-width="0.35">100K</text>
<text x="347.3" y="1413.2" font-size="6.4" font-weight="bold" text-anchor="middle" textLength="12.5" lengthAdjust="spacingAndGlyphs" fill="#111" stroke="#111" stroke-width="0.35">150K</text>
<text x="384.3" y="1413.2" font-size="6.4" font-weight="bold" text-anchor="middle" textLength="12.5" lengthAdjust="spacingAndGlyphs" fill="#111" stroke="#111" stroke-width="0.35">200K</text>
<text x="417.5" y="1413.2" font-size="6.4" font-weight="bold" text-anchor="middle" fill="#111" stroke="#111" stroke-width="0.35">25</text>
<line x1="439.9" y1="1229.8" x2="439.9" y2="1400.4" stroke="#3a3a3a" stroke-width="1.9" stroke-linecap="butt"/>
<line x1="436.9" y1="1399.8" x2="591.1" y2="1399.8" stroke="#3a3a3a" stroke-width="1.9" stroke-linecap="butt"/>
<line x1="435.7" y1="1399.8" x2="439.9" y2="1399.8" stroke="#3a3a3a" stroke-width="1.9" stroke-linecap="butt"/>
<line x1="437.3" y1="1385.0" x2="439.9" y2="1385.0" stroke="#3a3a3a" stroke-width="1.3" stroke-linecap="butt"/>
<line x1="437.3" y1="1370.1" x2="439.9" y2="1370.1" stroke="#3a3a3a" stroke-width="1.3" stroke-linecap="butt"/>
<line x1="437.3" y1="1355.3" x2="439.9" y2="1355.3" stroke="#3a3a3a" stroke-width="1.3" stroke-linecap="butt"/>
<line x1="435.7" y1="1340.4" x2="439.9" y2="1340.4" stroke="#3a3a3a" stroke-width="1.9" stroke-linecap="butt"/>
<line x1="437.3" y1="1325.6" x2="439.9" y2="1325.6" stroke="#3a3a3a" stroke-width="1.3" stroke-linecap="butt"/>
<line x1="437.3" y1="1310.7" x2="439.9" y2="1310.7" stroke="#3a3a3a" stroke-width="1.3" stroke-linecap="butt"/>
<line x1="437.3" y1="1295.9" x2="439.9" y2="1295.9" stroke="#3a3a3a" stroke-width="1.3" stroke-linecap="butt"/>
<line x1="435.7" y1="1281.0" x2="439.9" y2="1281.0" stroke="#3a3a3a" stroke-width="1.9" stroke-linecap="butt"/>
<line x1="437.3" y1="1266.2" x2="439.9" y2="1266.2" stroke="#3a3a3a" stroke-width="1.3" stroke-linecap="butt"/>
<line x1="437.3" y1="1251.3" x2="439.9" y2="1251.3" stroke="#3a3a3a" stroke-width="1.3" stroke-linecap="butt"/>
<line x1="437.3" y1="1236.5" x2="439.9" y2="1236.5" stroke="#3a3a3a" stroke-width="1.3" stroke-linecap="butt"/>
<line x1="452.7" y1="1399.8" x2="452.7" y2="1403.2" stroke="#2a2a2a" stroke-width="1.5" stroke-linecap="butt"/>
<line x1="458.9" y1="1399.8" x2="458.9" y2="1402.4" stroke="#2a2a2a" stroke-width="1.5" stroke-linecap="butt"/>
<line x1="465.1" y1="1399.8" x2="465.1" y2="1402.4" stroke="#2a2a2a" stroke-width="1.5" stroke-linecap="butt"/>
<line x1="471.3" y1="1399.8" x2="471.3" y2="1402.4" stroke="#2a2a2a" stroke-width="1.5" stroke-linecap="butt"/>
<line x1="477.5" y1="1399.8" x2="477.5" y2="1402.4" stroke="#2a2a2a" stroke-width="1.5" stroke-linecap="butt"/>
<line x1="483.7" y1="1399.8" x2="483.7" y2="1402.4" stroke="#2a2a2a" stroke-width="1.5" stroke-linecap="butt"/>
<line x1="489.9" y1="1399.8" x2="489.9" y2="1403.2" stroke="#2a2a2a" stroke-width="1.5" stroke-linecap="butt"/>
<line x1="496.1" y1="1399.8" x2="496.1" y2="1402.4" stroke="#2a2a2a" stroke-width="1.5" stroke-linecap="butt"/>
<line x1="502.3" y1="1399.8" x2="502.3" y2="1402.4" stroke="#2a2a2a" stroke-width="1.5" stroke-linecap="butt"/>
<line x1="508.5" y1="1399.8" x2="508.5" y2="1402.4" stroke="#2a2a2a" stroke-width="1.5" stroke-linecap="butt"/>
<line x1="514.7" y1="1399.8" x2="514.7" y2="1402.4" stroke="#2a2a2a" stroke-width="1.5" stroke-linecap="butt"/>
<line x1="520.9" y1="1399.8" x2="520.9" y2="1402.4" stroke="#2a2a2a" stroke-width="1.5" stroke-linecap="butt"/>
<line x1="527.1" y1="1399.8" x2="527.1" y2="1403.2" stroke="#2a2a2a" stroke-width="1.5" stroke-linecap="butt"/>
<line x1="533.3" y1="1399.8" x2="533.3" y2="1402.4" stroke="#2a2a2a" stroke-width="1.5" stroke-linecap="butt"/>
<line x1="539.5" y1="1399.8" x2="539.5" y2="1402.4" stroke="#2a2a2a" stroke-width="1.5" stroke-linecap="butt"/>
<line x1="545.7" y1="1399.8" x2="545.7" y2="1402.4" stroke="#2a2a2a" stroke-width="1.5" stroke-linecap="butt"/>
<line x1="551.9" y1="1399.8" x2="551.9" y2="1402.4" stroke="#2a2a2a" stroke-width="1.5" stroke-linecap="butt"/>
<line x1="558.1" y1="1399.8" x2="558.1" y2="1402.4" stroke="#2a2a2a" stroke-width="1.5" stroke-linecap="butt"/>
<line x1="564.3" y1="1399.8" x2="564.3" y2="1403.2" stroke="#2a2a2a" stroke-width="1.5" stroke-linecap="butt"/>
<line x1="570.5" y1="1399.8" x2="570.5" y2="1402.4" stroke="#2a2a2a" stroke-width="1.5" stroke-linecap="butt"/>
<line x1="576.7" y1="1399.8" x2="576.7" y2="1402.4" stroke="#2a2a2a" stroke-width="1.5" stroke-linecap="butt"/>
<line x1="582.9" y1="1399.8" x2="582.9" y2="1402.4" stroke="#2a2a2a" stroke-width="1.5" stroke-linecap="butt"/>
<line x1="589.1" y1="1399.8" x2="589.1" y2="1402.4" stroke="#2a2a2a" stroke-width="1.5" stroke-linecap="butt"/>
<path d="M478.3 1399.8L478.30 1399.8L479.05 1399.8L479.05 1385.0L479.80 1385.0L479.80 1374.0L480.55 1374.0L480.55 1366.0L481.30 1366.0L481.30 1343.6L482.05 1343.6L482.05 1324.5L482.80 1324.5L482.80 1301.7L483.55 1301.7L483.55 1271.7L484.30 1271.7L484.30 1257.1L485.05 1257.1L485.05 1252.6L485.80 1252.6L485.80 1251.3L486.55 1251.3L486.55 1259.2L487.30 1259.2L487.30 1278.2L488.05 1278.2L488.05 1290.1L488.80 1290.1L488.80 1306.3L489.55 1306.3L489.55 1321.0L490.30 1321.0L490.30 1329.6L491.05 1329.6L491.05 1337.6L491.80 1337.6L491.80 1348.1L492.55 1348.1L492.55 1355.5L493.30 1355.5L493.30 1362.4L494.05 1362.4L494.05 1362.0L494.80 1362.0L494.80 1360.0L495.55 1360.0L495.55 1362.0L496.30 1362.0L496.30 1358.8L497.05 1358.8L497.05 1363.6L497.80 1363.6L497.80 1359.5L498.55 1359.5L498.55 1370.5L499.30 1370.5L499.30 1369.4L500.05 1369.4L500.05 1370.7L500.80 1370.7L500.80 1372.3L501.55 1372.3L501.55 1372.0L502.30 1372.0L502.30 1373.5L503.05 1373.5L503.05 1371.4L503.80 1371.4L503.80 1367.1L504.55 1367.1L504.55 1369.3L505.30 1369.3L505.30 1368.3L506.05 1368.3L506.05 1367.8L506.80 1367.8L506.80 1372.3L507.55 1372.3L507.55 1370.6L508.30 1370.6L508.30 1370.4L509.05 1370.4L509.05 1373.4L509.80 1373.4L509.80 1374.0L510.55 1374.0L510.55 1378.8L511.30 1378.8L511.30 1377.5L512.05 1377.5L512.05 1377.1L512.80 1377.1L512.80 1376.4L513.55 1376.4L513.55 1374.2L514.30 1374.2L514.30 1365.3L515.05 1365.3L515.05 1371.5L515.80 1371.5L515.80 1364.3L516.55 1364.3L516.55 1371.1L517.30 1371.1L517.30 1373.2L518.05 1373.2L518.05 1370.3L518.80 1370.3L518.80 1370.6L519.55 1370.6L519.55 1372.8L520.30 1372.8L520.30 1371.8L521.05 1371.8L521.05 1371.0L521.80 1371.0L521.80 1371.3L522.55 1371.3L522.55 1375.0L523.30 1375.0L523.30 1373.5L524.05 1373.5L524.05 1371.1L524.80 1371.1L524.80 1370.6L525.55 1370.6L525.55 1371.9L526.30 1371.9L526.30 1373.9L527.05 1373.9L527.05 1371.6L527.80 1371.6L527.80 1367.7L528.55 1367.7L528.55 1365.1L529.30 1365.1L529.30 1366.0L530.05 1366.0L530.05 1365.5L530.80 1365.5L530.80 1367.3L531.55 1367.3L531.55 1366.8L532.30 1366.8L532.30 1365.8L533.05 1365.8L533.05 1366.6L533.80 1366.6L533.80 1366.7L534.55 1366.7L534.55 1360.4L535.30 1360.4L535.30 1367.7L536.05 1367.7L536.05 1360.2L536.80 1360.2L536.80 1365.5L537.55 1365.5L537.55 1358.2L538.30 1358.2L538.30 1354.5L539.05 1354.5L539.05 1355.7L539.80 1355.7L539.80 1350.8L540.55 1350.8L540.55 1351.1L541.30 1351.1L541.30 1345.4L542.05 1345.4L542.05 1338.7L542.80 1338.7L542.80 1335.6L543.55 1335.6L543.55 1332.8L544.30 1332.8L544.30 1328.2L545.05 1328.2L545.05 1320.4L545.80 1320.4L545.80 1319.3L546.55 1319.3L546.55 1318.6L547.30 1318.6L547.30 1319.4L548.05 1319.4L548.05 1315.7L548.80 1315.7L548.80 1325.3L549.55 1325.3L549.55 1313.4L550.30 1313.4L550.30 1317.4L551.05 1317.4L551.05 1321.5L551.80 1321.5L551.80 1337.9L552.55 1337.9L552.55 1339.9L553.30 1339.9L553.30 1347.8L554.05 1347.8L554.05 1358.8L554.80 1358.8L554.80 1365.2L555.55 1365.2L555.55 1372.9L556.30 1372.9L556.30 1383.9L557.05 1383.9L557.05 1388.0L557.80 1388.0L557.80 1393.9L558.55 1393.9L558.55 1398.2L559.30 1398.2L558.8 1399.8Z" fill="#000" filter="url(#b0)"/>
<text x="479.2" y="1245.9" font-size="15.5" textLength="30.2" lengthAdjust="spacingAndGlyphs" fill="#111" stroke="#111" stroke-width="0.45">28%</text>
<text x="536.7" y="1245.9" font-size="15.5" textLength="30.7" lengthAdjust="spacingAndGlyphs" fill="#111" stroke="#111" stroke-width="0.45">26%</text>
<text x="507.8" y="1262.5" font-size="15.5" textLength="30.3" lengthAdjust="spacingAndGlyphs" fill="#111" stroke="#111" stroke-width="0.45">44%</text>
<text x="452.7" y="1413.2" font-size="6.4" font-weight="bold" text-anchor="middle" textLength="10.0" lengthAdjust="spacingAndGlyphs" fill="#111" stroke="#111" stroke-width="0.35">50K</text>
<text x="490.2" y="1413.2" font-size="6.4" font-weight="bold" text-anchor="middle" textLength="12.5" lengthAdjust="spacingAndGlyphs" fill="#111" stroke="#111" stroke-width="0.35">100K</text>
<text x="527.3" y="1413.2" font-size="6.4" font-weight="bold" text-anchor="middle" textLength="12.5" lengthAdjust="spacingAndGlyphs" fill="#111" stroke="#111" stroke-width="0.35">150K</text>
<text x="564.3" y="1413.2" font-size="6.4" font-weight="bold" text-anchor="middle" textLength="12.5" lengthAdjust="spacingAndGlyphs" fill="#111" stroke="#111" stroke-width="0.35">200K</text>
<line x1="614.9" y1="1228.5" x2="614.9" y2="1399.4" stroke="#111" stroke-width="1.7" stroke-linecap="butt"/>
<line x1="611.9" y1="1398.8" x2="760.5" y2="1398.8" stroke="#111" stroke-width="1.7" stroke-linecap="butt"/>
<line x1="610.7" y1="1398.8" x2="614.9" y2="1398.8" stroke="#111" stroke-width="1.9" stroke-linecap="butt"/>
<line x1="612.3" y1="1384.0" x2="614.9" y2="1384.0" stroke="#111" stroke-width="1.3" stroke-linecap="butt"/>
<line x1="612.3" y1="1369.1" x2="614.9" y2="1369.1" stroke="#111" stroke-width="1.3" stroke-linecap="butt"/>
<line x1="612.3" y1="1354.3" x2="614.9" y2="1354.3" stroke="#111" stroke-width="1.3" stroke-linecap="butt"/>
<line x1="610.7" y1="1339.4" x2="614.9" y2="1339.4" stroke="#111" stroke-width="1.9" stroke-linecap="butt"/>
<line x1="612.3" y1="1324.6" x2="614.9" y2="1324.6" stroke="#111" stroke-width="1.3" stroke-linecap="butt"/>
<line x1="612.3" y1="1309.7" x2="614.9" y2="1309.7" stroke="#111" stroke-width="1.3" stroke-linecap="butt"/>
<line x1="612.3" y1="1294.9" x2="614.9" y2="1294.9" stroke="#111" stroke-width="1.3" stroke-linecap="butt"/>
<line x1="610.7" y1="1280.0" x2="614.9" y2="1280.0" stroke="#111" stroke-width="1.9" stroke-linecap="butt"/>
<line x1="612.3" y1="1265.2" x2="614.9" y2="1265.2" stroke="#111" stroke-width="1.3" stroke-linecap="butt"/>
<line x1="612.3" y1="1250.3" x2="614.9" y2="1250.3" stroke="#111" stroke-width="1.3" stroke-linecap="butt"/>
<line x1="612.3" y1="1235.5" x2="614.9" y2="1235.5" stroke="#111" stroke-width="1.3" stroke-linecap="butt"/>
<line x1="628.5" y1="1398.8" x2="628.5" y2="1402.2" stroke="#2a2a2a" stroke-width="1.5" stroke-linecap="butt"/>
<line x1="634.7" y1="1398.8" x2="634.7" y2="1401.4" stroke="#2a2a2a" stroke-width="1.5" stroke-linecap="butt"/>
<line x1="640.9" y1="1398.8" x2="640.9" y2="1401.4" stroke="#2a2a2a" stroke-width="1.5" stroke-linecap="butt"/>
<line x1="647.1" y1="1398.8" x2="647.1" y2="1401.4" stroke="#2a2a2a" stroke-width="1.5" stroke-linecap="butt"/>
<line x1="653.3" y1="1398.8" x2="653.3" y2="1401.4" stroke="#2a2a2a" stroke-width="1.5" stroke-linecap="butt"/>
<line x1="659.5" y1="1398.8" x2="659.5" y2="1401.4" stroke="#2a2a2a" stroke-width="1.5" stroke-linecap="butt"/>
<line x1="665.7" y1="1398.8" x2="665.7" y2="1402.2" stroke="#2a2a2a" stroke-width="1.5" stroke-linecap="butt"/>
<line x1="671.9" y1="1398.8" x2="671.9" y2="1401.4" stroke="#2a2a2a" stroke-width="1.5" stroke-linecap="butt"/>
<line x1="678.1" y1="1398.8" x2="678.1" y2="1401.4" stroke="#2a2a2a" stroke-width="1.5" stroke-linecap="butt"/>
<line x1="684.3" y1="1398.8" x2="684.3" y2="1401.4" stroke="#2a2a2a" stroke-width="1.5" stroke-linecap="butt"/>
<line x1="690.5" y1="1398.8" x2="690.5" y2="1401.4" stroke="#2a2a2a" stroke-width="1.5" stroke-linecap="butt"/>
<line x1="696.7" y1="1398.8" x2="696.7" y2="1401.4" stroke="#2a2a2a" stroke-width="1.5" stroke-linecap="butt"/>
<line x1="702.9" y1="1398.8" x2="702.9" y2="1402.2" stroke="#2a2a2a" stroke-width="1.5" stroke-linecap="butt"/>
<line x1="709.1" y1="1398.8" x2="709.1" y2="1401.4" stroke="#2a2a2a" stroke-width="1.5" stroke-linecap="butt"/>
<line x1="715.3" y1="1398.8" x2="715.3" y2="1401.4" stroke="#2a2a2a" stroke-width="1.5" stroke-linecap="butt"/>
<line x1="721.5" y1="1398.8" x2="721.5" y2="1401.4" stroke="#2a2a2a" stroke-width="1.5" stroke-linecap="butt"/>
<line x1="727.7" y1="1398.8" x2="727.7" y2="1401.4" stroke="#2a2a2a" stroke-width="1.5" stroke-linecap="butt"/>
<line x1="733.9" y1="1398.8" x2="733.9" y2="1401.4" stroke="#2a2a2a" stroke-width="1.5" stroke-linecap="butt"/>
<line x1="740.1" y1="1398.8" x2="740.1" y2="1402.2" stroke="#2a2a2a" stroke-width="1.5" stroke-linecap="butt"/>
<line x1="746.3" y1="1398.8" x2="746.3" y2="1401.4" stroke="#2a2a2a" stroke-width="1.5" stroke-linecap="butt"/>
<line x1="752.5" y1="1398.8" x2="752.5" y2="1401.4" stroke="#2a2a2a" stroke-width="1.5" stroke-linecap="butt"/>
<line x1="758.7" y1="1398.8" x2="758.7" y2="1401.4" stroke="#2a2a2a" stroke-width="1.5" stroke-linecap="butt"/>
<path d="M653.9 1398.8L653.90 1398.8L654.65 1398.8L654.65 1373.5L655.40 1373.5L655.40 1370.0L656.15 1370.0L656.15 1365.0L656.90 1365.0L656.90 1350.9L657.65 1350.9L657.65 1336.6L658.40 1336.6L658.40 1321.6L659.15 1321.6L659.15 1313.5L659.90 1313.5L659.90 1297.4L660.65 1297.4L660.65 1294.3L661.40 1294.3L661.40 1301.7L662.15 1301.7L662.15 1300.8L662.90 1300.8L662.90 1300.7L663.65 1300.7L663.65 1318.9L664.40 1318.9L664.40 1326.3L665.15 1326.3L665.15 1333.8L665.90 1333.8L665.90 1337.6L666.65 1337.6L666.65 1343.1L667.40 1343.1L667.40 1347.5L668.15 1347.5L668.15 1356.4L668.90 1356.4L668.90 1357.2L669.65 1357.2L669.65 1366.8L670.40 1366.8L670.40 1371.1L671.15 1371.1L671.15 1372.2L671.90 1372.2L671.90 1369.5L672.65 1369.5L672.65 1366.1L673.40 1366.1L673.40 1370.8L674.15 1370.8L674.15 1374.5L674.90 1374.5L674.90 1375.5L675.65 1375.5L675.65 1375.6L676.40 1375.6L676.40 1382.0L677.15 1382.0L677.15 1380.5L677.90 1380.5L677.90 1381.5L678.65 1381.5L678.65 1373.4L679.40 1373.4L679.40 1379.7L680.15 1379.7L680.15 1380.3L680.90 1380.3L680.90 1382.0L681.65 1382.0L681.65 1382.8L682.40 1382.8L682.40 1380.5L683.15 1380.5L683.15 1378.5L683.90 1378.5L683.90 1381.5L684.65 1381.5L684.65 1381.9L685.40 1381.9L685.40 1378.0L686.15 1378.0L686.15 1384.3L686.90 1384.3L686.90 1378.8L687.65 1378.8L687.65 1383.1L688.40 1383.1L688.40 1382.0L689.15 1382.0L689.15 1378.5L689.90 1378.5L689.90 1377.9L690.65 1377.9L690.65 1382.4L691.40 1382.4L691.40 1380.5L692.15 1380.5L692.15 1380.6L692.90 1380.6L692.90 1375.8L693.65 1375.8L693.65 1378.6L694.40 1378.6L694.40 1378.0L695.15 1378.0L695.15 1376.4L695.90 1376.4L695.90 1376.2L696.65 1376.2L696.65 1375.0L697.40 1375.0L697.40 1374.4L698.15 1374.4L698.15 1372.6L698.90 1372.6L698.90 1371.1L699.65 1371.1L699.65 1373.6L700.40 1373.6L700.40 1372.9L701.15 1372.9L701.15 1372.7L701.90 1372.7L701.90 1375.1L702.65 1375.1L702.65 1371.1L703.40 1371.1L703.40 1370.1L704.15 1370.1L704.15 1371.6L704.90 1371.6L704.90 1370.4L705.65 1370.4L705.65 1372.2L706.40 1372.2L706.40 1370.9L707.15 1370.9L707.15 1375.3L707.90 1375.3L707.90 1372.2L708.65 1372.2L708.65 1375.6L709.40 1375.6L709.40 1371.4L710.15 1371.4L710.15 1375.5L710.90 1375.5L710.90 1374.6L711.65 1374.6L711.65 1375.1L712.40 1375.1L712.40 1374.2L713.15 1374.2L713.15 1369.3L713.90 1369.3L713.90 1372.9L714.65 1372.9L714.65 1367.7L715.40 1367.7L715.40 1367.6L716.15 1367.6L716.15 1361.1L716.90 1361.1L716.90 1359.1L717.65 1359.1L717.65 1355.8L718.40 1355.8L718.40 1348.5L719.15 1348.5L719.15 1344.4L719.90 1344.4L719.90 1343.4L720.65 1343.4L720.65 1346.8L721.40 1346.8L721.40 1340.8L722.15 1340.8L722.15 1341.5L722.90 1341.5L722.90 1343.5L723.65 1343.5L723.65 1341.3L724.40 1341.3L724.40 1342.4L725.15 1342.4L725.15 1342.0L725.90 1342.0L725.90 1336.4L726.65 1336.4L726.65 1347.5L727.40 1347.5L727.40 1356.7L728.15 1356.7L728.15 1368.2L728.90 1368.2L728.90 1374.6L729.65 1374.6L729.65 1378.1L730.40 1378.1L730.40 1385.7L731.15 1385.7L731.15 1386.5L731.90 1386.5L731.90 1386.7L732.65 1386.7L732.65 1384.8L733.40 1384.8L733.40 1396.2L734.15 1396.2L733.5 1398.8Z" fill="#000" filter="url(#b0)"/>
<text x="649.9" y="1273.2" font-size="15.5" textLength="30.6" lengthAdjust="spacingAndGlyphs" fill="#111" stroke="#111" stroke-width="0.45">25%</text>
<text x="708.1" y="1273.2" font-size="15.5" textLength="30.4" lengthAdjust="spacingAndGlyphs" fill="#111" stroke="#111" stroke-width="0.45">30%</text>
<text x="679.0" y="1289.3" font-size="15.5" textLength="29.8" lengthAdjust="spacingAndGlyphs" fill="#111" stroke="#111" stroke-width="0.45">45%</text>
<text x="628.5" y="1412.2" font-size="6.4" font-weight="bold" text-anchor="middle" textLength="10.0" lengthAdjust="spacingAndGlyphs" fill="#111" stroke="#111" stroke-width="0.35">50K</text>
<text x="666.0" y="1412.2" font-size="6.4" font-weight="bold" text-anchor="middle" textLength="12.5" lengthAdjust="spacingAndGlyphs" fill="#111" stroke="#111" stroke-width="0.35">100K</text>
<text x="703.0" y="1412.2" font-size="6.4" font-weight="bold" text-anchor="middle" textLength="12.5" lengthAdjust="spacingAndGlyphs" fill="#111" stroke="#111" stroke-width="0.35">150K</text>
<text x="740.0" y="1412.2" font-size="6.4" font-weight="bold" text-anchor="middle" textLength="12.5" lengthAdjust="spacingAndGlyphs" fill="#111" stroke="#111" stroke-width="0.35">200K</text>
<path d="M129.9 1318.9L136.7 1302.7L138.0 1312.3L147.2 1315.5Z" fill="#0a0a0a"/>
<line x1="153.5" y1="1299.7" x2="136.5" y2="1313.5" stroke="#0a0a0a" stroke-width="2.5" stroke-linecap="butt"/>
<path d="M668.6 1334.2L675.8 1318.1L676.9 1327.7L685.9 1331.2Z" fill="#0a0a0a"/>
<line x1="692.3" y1="1315.7" x2="675.3" y2="1329.0" stroke="#0a0a0a" stroke-width="2.5" stroke-linecap="butt"/>
<line x1="65.0" y1="1412.0" x2="66.6" y2="1412.0" stroke="#333" stroke-width="1.4" stroke-linecap="butt"/>
<text x="56.8" y="1995.5" font-size="44.3" textLength="432.7" lengthAdjust="spacingAndGlyphs" transform="rotate(-90 56.8 1995.5)" fill="#111" stroke="#111" stroke-width="0.45">Relative cell number (%)</text>
<line x1="256.7" y1="1774.8" x2="256.7" y2="1778.9" stroke="#222" stroke-width="1.8" stroke-linecap="butt"/>
<line x1="248.2" y1="1774.8" x2="265.2" y2="1774.8" stroke="#222" stroke-width="1.8" stroke-linecap="butt"/>
<rect x="221.6" y="1779.8" width="70.2" height="248.5" fill="#4a4a4a" stroke="#141414" stroke-width="1.8"/>
<line x1="470.5" y1="1737.0" x2="470.5" y2="1774.5" stroke="#222" stroke-width="1.8" stroke-linecap="butt"/>
<line x1="461.5" y1="1737.0" x2="479.5" y2="1737.0" stroke="#222" stroke-width="1.8" stroke-linecap="butt"/>
<rect x="434.9" y="1775.4" width="71.2" height="252.9" fill="#4a4a4a" stroke="#141414" stroke-width="1.8"/>
<line x1="685.2" y1="1606.7" x2="685.2" y2="1638.4" stroke="#222" stroke-width="1.8" stroke-linecap="butt"/>
<line x1="675.2" y1="1606.7" x2="695.2" y2="1606.7" stroke="#222" stroke-width="1.8" stroke-linecap="butt"/>
<rect x="649.5" y="1639.3" width="71.3" height="389.0" fill="#4a4a4a" stroke="#141414" stroke-width="1.8"/>
<line x1="151.1" y1="1530.3" x2="151.1" y2="2029.8" stroke="#000" stroke-width="4.4" stroke-linecap="butt"/>
<line x1="150.1" y1="2028.3" x2="783.0" y2="2028.3" stroke="#111" stroke-width="2.2" stroke-linecap="butt"/>
<line x1="139.8" y1="1532.2" x2="151.1" y2="1532.2" stroke="#000" stroke-width="3.8" stroke-linecap="butt"/>
<text x="69.5" y="1544.5" font-size="34.2" textLength="54.4" lengthAdjust="spacingAndGlyphs" fill="#222" stroke="#222" stroke-width="0.45">200</text>
<line x1="139.8" y1="1656.2" x2="151.1" y2="1656.2" stroke="#000" stroke-width="3.8" stroke-linecap="butt"/>
<text x="69.5" y="1668.5" font-size="34.2" textLength="54.4" lengthAdjust="spacingAndGlyphs" fill="#222" stroke="#222" stroke-width="0.45">150</text>
<line x1="139.8" y1="1780.2" x2="151.1" y2="1780.2" stroke="#000" stroke-width="3.8" stroke-linecap="butt"/>
<text x="69.5" y="1792.5" font-size="34.2" textLength="54.4" lengthAdjust="spacingAndGlyphs" fill="#222" stroke="#222" stroke-width="0.45">100</text>
<line x1="139.8" y1="1904.3" x2="151.1" y2="1904.3" stroke="#000" stroke-width="3.8" stroke-linecap="butt"/>
<text x="87.6" y="1916.6" font-size="34.2" textLength="36.3" lengthAdjust="spacingAndGlyphs" fill="#222" stroke="#222" stroke-width="0.45">50</text>
<line x1="139.8" y1="2028.3" x2="151.1" y2="2028.3" stroke="#000" stroke-width="3.8" stroke-linecap="butt"/>
<text x="105.7" y="2040.6" font-size="34.2" textLength="18.1" lengthAdjust="spacingAndGlyphs" fill="#222" stroke="#222" stroke-width="0.45">0</text>
<text x="218.5" y="2072.0" font-size="38.5" textLength="68.2" lengthAdjust="spacingAndGlyphs" fill="#1a1a1a" stroke="#1a1a1a" stroke-width="0.45">Con</text>
<text x="420.2" y="2072.0" font-size="38.5" textLength="99.7" lengthAdjust="spacingAndGlyphs" fill="#1a1a1a" stroke="#1a1a1a" stroke-width="0.45">siCon</text>
<text x="624.6" y="2072.0" font-size="38.5" textLength="111.8" lengthAdjust="spacingAndGlyphs" fill="#1a1a1a" stroke="#1a1a1a" stroke-width="0.45">siPKR</text>
<line x1="475.0" y1="1595.5" x2="678.3" y2="1595.5" stroke="#222" stroke-width="2.0" stroke-linecap="butt"/>
<path d="M557.2 1584.2L557.2 1578.3M557.2 1584.2L562.8 1582.4M557.2 1584.2L560.7 1589.0M557.2 1584.2L553.8 1589.0M557.2 1584.2L551.6 1582.4" stroke="#0a0a0a" stroke-width="2.6" fill="none" stroke-linecap="butt"/>
<path d="M570.5 1584.2L570.5 1578.3M570.5 1584.2L576.1 1582.4M570.5 1584.2L574.0 1589.0M570.5 1584.2L567.0 1589.0M570.5 1584.2L564.9 1582.4" stroke="#0a0a0a" stroke-width="2.6" fill="none" stroke-linecap="butt"/>
<path d="M583.8 1584.2L583.8 1578.3M583.8 1584.2L589.4 1582.4M583.8 1584.2L587.3 1589.0M583.8 1584.2L580.3 1589.0M583.8 1584.2L578.2 1582.4" stroke="#0a0a0a" stroke-width="2.6" fill="none" stroke-linecap="butt"/>
<path d="M597.1 1584.2L597.1 1578.3M597.1 1584.2L602.7 1582.4M597.1 1584.2L600.5 1589.0M597.1 1584.2L593.6 1589.0M597.1 1584.2L591.5 1582.4" stroke="#0a0a0a" stroke-width="2.6" fill="none" stroke-linecap="butt"/>
<rect x="166.7" y="1644.4" width="222.7" height="45.9" fill="#8f8f8f"/>
<rect x="166.7" y="1696.2" width="222.7" height="40.7" fill="#8f8f8f"/>
<rect x="166.7" y="1644.4" width="222.7" height="10" fill="#7a7a7a" opacity=".5"/>
<rect x="166.7" y="1727" width="222.7" height="9.9" fill="#9c9c9c" opacity=".55"/>
<line x1="166.7" y1="1645.5" x2="277.0" y2="1645.5" stroke="#1c1c1c" stroke-width="2.0" stroke-linecap="butt"/>
<line x1="280.2" y1="1645.5" x2="389.4" y2="1645.5" stroke="#1c1c1c" stroke-width="2.0" stroke-linecap="butt"/>
<rect x="176.5" y="1662.5" width="24.5" height="9.0" rx="4.5" fill="#050505" opacity="1.0" filter="url(#b1)"/>
<rect x="211.0" y="1662.2" width="24.0" height="9.5" rx="4.8" fill="#050505" opacity="1.0" filter="url(#b1)"/>
<rect x="250.5" y="1664.2" width="19.0" height="5.5" rx="2.8" fill="#050505" opacity="0.45" filter="url(#b1)"/>
<rect x="284.8" y="1662.2" width="23.5" height="9.5" rx="4.8" fill="#050505" opacity="1.0" filter="url(#b1)"/>
<rect x="321.5" y="1662.0" width="25.0" height="10.0" rx="5.0" fill="#050505" opacity="1.0" filter="url(#b1)"/>
<rect x="360.0" y="1663.8" width="21.5" height="6.5" rx="3.2" fill="#050505" opacity="0.6" filter="url(#b1)"/>
<path d="M171.5 1719.2Q186.0 1723.6 200.5 1719.2" stroke="#060606" stroke-width="7.6" fill="none" stroke-linecap="round" filter="url(#b2)"/>
<path d="M208.5 1719.2Q222.2 1723.6 236.0 1719.2" stroke="#060606" stroke-width="7.6" fill="none" stroke-linecap="round" filter="url(#b2)"/>
<path d="M245.3 1719.2Q259.6 1723.6 274.0 1719.2" stroke="#060606" stroke-width="7.6" fill="none" stroke-linecap="round" filter="url(#b2)"/>
<path d="M282.0 1719.2Q296.5 1723.6 311.0 1719.2" stroke="#060606" stroke-width="7.6" fill="none" stroke-linecap="round" filter="url(#b2)"/>
<path d="M318.8 1719.2Q333.3 1723.6 347.8 1719.2" stroke="#060606" stroke-width="7.6" fill="none" stroke-linecap="round" filter="url(#b2)"/>
<path d="M357.0 1719.2Q371.5 1723.6 386.0 1719.2" stroke="#060606" stroke-width="7.6" fill="none" stroke-linecap="round" filter="url(#b2)"/>
<line x1="170" y1="1720.2" x2="388" y2="1720.2" stroke="#303030" stroke-width="3" filter="url(#b2)"/>
<text x="390.6" y="1655.9" font-size="19.6" textLength="63.7" lengthAdjust="spacingAndGlyphs" fill="#111" stroke="#111" stroke-width="0.3">-75kDa</text>
<text x="390.6" y="1674.9" font-size="19.6" textLength="49.4" lengthAdjust="spacingAndGlyphs" fill="#111" stroke="#111" stroke-width="0.3">-PKR</text>
<text x="390.6" y="1708.6" font-size="19.6" textLength="67.1" lengthAdjust="spacingAndGlyphs" fill="#111" stroke="#111" stroke-width="0.3">-45kDa</text>
<text x="390.6" y="1727.5" font-size="19.6" textLength="54.6" lengthAdjust="spacingAndGlyphs" fill="#111" stroke="#111" stroke-width="0.3">-Actin</text>
<text x="335.9" y="1568.2" font-size="16.2" textLength="57.7" lengthAdjust="spacingAndGlyphs" fill="#111" stroke="#111" stroke-width="0.7">-45kDa</text>
<text x="186.0" y="1644.0" font-size="19.5" textLength="33.5" lengthAdjust="spacingAndGlyphs" transform="rotate(-47 186.0 1644.0)" fill="#111" stroke="#111" stroke-width="0.4">Con</text>
<text x="224.0" y="1644.5" font-size="19.5" textLength="52.0" lengthAdjust="spacingAndGlyphs" transform="rotate(-47 224.0 1644.5)" fill="#111" stroke="#111" stroke-width="0.4">SiCon</text>
<text x="262.0" y="1644.5" font-size="19.5" textLength="56.5" lengthAdjust="spacingAndGlyphs" transform="rotate(-47 262.0 1644.5)" fill="#111" stroke="#111" stroke-width="0.4">SiPKR</text>
<text x="297.5" y="1644.0" font-size="19.5" textLength="33.5" lengthAdjust="spacingAndGlyphs" transform="rotate(-47 297.5 1644.0)" fill="#111" stroke="#111" stroke-width="0.4">Con</text>
<text x="335.5" y="1644.5" font-size="19.5" textLength="52.0" lengthAdjust="spacingAndGlyphs" transform="rotate(-47 335.5 1644.5)" fill="#111" stroke="#111" stroke-width="0.4">SiCon</text>
<text x="372.0" y="1644.5" font-size="19.5" textLength="56.5" lengthAdjust="spacingAndGlyphs" transform="rotate(-47 372.0 1644.5)" fill="#111" stroke="#111" stroke-width="0.4">SiPKR</text>
</svg></body></html>
